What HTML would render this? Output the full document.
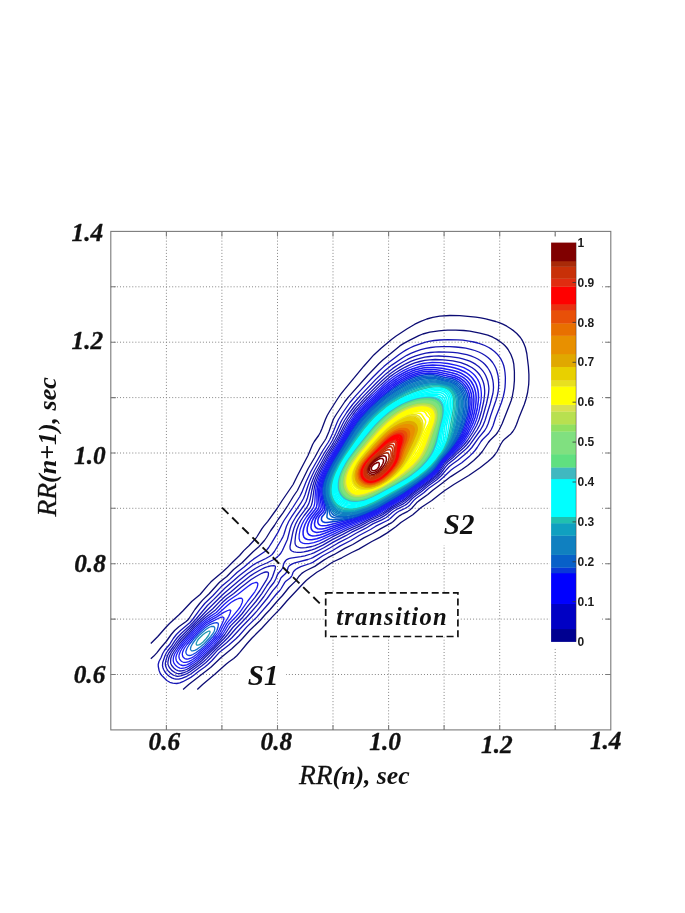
<!DOCTYPE html><html><head><meta charset="utf-8"><title>RR contour plot</title><style>html,body{margin:0;padding:0;background:#fff}body{width:685px;height:913px;position:relative;overflow:hidden}</style></head><body><svg width="685" height="913" viewBox="0 0 685 913" style="position:absolute;left:0;top:0"><rect width="685" height="913" fill="#fff"/><g stroke="#868686" stroke-width="1" stroke-dasharray="1 2.07" fill="none"><path d="M166.4 231.4V729.9"/><path d="M110.8 674.5H610.8"/><path d="M221.9 231.4V729.9"/><path d="M110.8 619.1H610.8"/><path d="M277.5 231.4V729.9"/><path d="M110.8 563.7H610.8"/><path d="M333.0 231.4V729.9"/><path d="M110.8 508.3H610.8"/><path d="M388.6 231.4V729.9"/><path d="M110.8 453.0H610.8"/><path d="M444.1 231.4V729.9"/><path d="M110.8 397.6H610.8"/><path d="M499.7 231.4V729.9"/><path d="M110.8 342.2H610.8"/><path d="M555.2 231.4V729.9"/><path d="M110.8 286.8H610.8"/></g><g fill="none" stroke-width="1.30" stroke-linejoin="round"><path d="M150.8 643.5 157.8 636.5 165.7 627.5 169.5 623.5 179.3 614.5 182.8 611.0 191.7 601.5 200.1 594.5 207.8 585.4 210.8 582.1 213.6 579.5 222.8 571.8 226.8 568.1 232.8 562.0 239.6 555.5 243.8 550.6 249.2 545.5 255.7 538.5 257.1 536.5 261.8 528.8 263.8 526.1 267.8 521.4 277.1 508.5 282.2 500.5 293.1 484.5 297.5 475.5 308.0 455.5 312.6 444.5 314.3 441.5 318.6 435.5 320.3 432.5 322.0 428.5 325.4 419.5 327.2 415.5 329.5 411.5 337.8 398.5 340.8 394.2 343.8 390.3 363.8 366.2 373.8 354.9 380.8 348.5 391.8 339.3 395.8 336.3 406.8 329.0 414.8 324.2 420.8 321.3 426.8 319.0 432.8 317.3 439.8 316.2 449.8 315.5 459.8 315.7 475.8 317.2 480.8 317.9 485.8 318.9 495.8 321.5 499.8 322.9 502.8 324.2 506.8 326.2 510.4 328.5 513.8 330.9 516.8 333.5 520.4 337.5 521.8 339.6 523.4 342.5 525.4 347.5 526.8 353.5 528.4 366.5 528.9 374.5 528.9 379.5 528.7 384.5 527.6 392.5 526.2 398.5 524.3 404.5 518.8 418.1 516.5 424.5 514.7 428.5 512.8 431.5 510.8 433.9 504.8 438.9 502.8 441.0 500.6 444.5 497.1 451.5 495.0 454.5 493.4 456.5 491.4 458.5 488.0 461.5 480.4 467.5 468.8 475.5 453.8 484.5 444.8 490.5 439.8 494.2 431.8 500.5 423.8 505.7 420.8 507.8 412.8 514.8 400.9 522.5 395.8 526.8 386.8 533.1 379.8 537.4 371.8 541.5 358.8 549.1 351.7 552.5 341.8 557.8 332.8 562.0 322.8 568.7 316.8 572.3 309.8 577.5 306.2 580.5 303.2 583.5 286.8 601.0 280.4 608.5 271.8 617.4 261.8 628.3 251.8 638.2 247.1 643.5 239.8 652.4 236.8 655.7 233.7 658.5 228.8 662.0 225.7 664.5 214.8 674.2 202.6 684.5 197.3 689.5" stroke="#0c0c74"/><path d="M150.8 658.7 153.8 656.1 156.8 652.9 161.0 647.5 166.2 641.5 171.2 634.5 174.6 630.5 179.1 626.5 186.1 621.5 187.8 620.0 189.0 618.5 194.9 609.5 199.6 603.5 202.8 599.9 209.4 593.5 218.8 583.0 220.4 581.5 226.8 576.5 233.6 569.5 242.3 562.5 252.8 552.0 258.8 546.8 264.4 540.5 266.5 537.5 270.8 530.5 274.4 525.5 278.1 519.5 282.8 513.1 287.8 505.5 293.3 496.5 297.4 490.5 308.2 468.5 314.7 457.5 320.1 447.5 324.8 440.5 326.0 438.5 329.0 431.5 332.9 420.5 333.8 418.5 336.2 414.5 344.9 401.5 348.8 396.6 367.8 375.2 378.8 363.8 382.8 360.1 399.8 345.9 403.8 343.4 409.8 340.1 418.8 335.6 422.8 334.0 429.8 332.2 438.8 330.8 443.8 330.3 447.8 330.2 455.8 330.2 463.8 330.5 469.8 331.1 479.8 333.1 487.8 335.2 492.8 337.2 496.8 339.4 499.8 341.4 502.6 343.5 504.8 345.5 506.6 347.5 508.1 349.5 510.8 354.3 512.8 359.5 513.8 364.2 514.4 371.5 514.4 380.5 513.7 388.5 512.3 396.5 511.2 400.5 509.7 404.5 502.2 423.5 499.3 429.5 497.5 432.5 495.8 434.8 489.9 440.5 488.3 442.5 482.3 451.5 478.9 455.5 473.7 460.5 467.6 465.5 461.9 469.5 450.8 476.6 440.8 484.3 432.8 490.2 427.8 494.5 418.8 500.9 416.8 502.6 411.8 508.2 409.8 510.0 407.8 511.3 402.8 513.8 399.8 515.6 396.8 518.0 393.2 521.5 391.8 522.6 380.8 528.6 372.6 533.5 363.8 537.9 352.8 544.5 344.8 548.4 333.8 554.7 327.8 557.7 323.8 560.1 314.8 566.4 306.3 570.5 303.8 572.0 301.8 573.4 298.8 576.5 295.8 580.9 288.9 587.5 282.5 595.5 277.8 600.5 270.1 609.5 265.3 614.5 260.1 620.5 249.8 630.2 242.5 638.5 238.8 642.3 231.8 648.8 220.8 657.8 210.6 667.5 188.7 684.5 183.1 689.5" stroke="#0c0c74"/><path d="M434.2 340.5 439.8 340.0 447.8 339.7 457.8 339.8 462.8 340.2 468.8 341.1 473.8 342.0 477.8 343.0 481.8 344.3 484.8 345.5 488.8 347.5 491.8 349.4 494.5 351.5 496.8 353.7 499.2 356.5 500.8 358.9 502.6 362.5 503.7 365.5 504.4 368.5 505.0 372.5 505.4 377.5 505.3 382.5 505.0 387.5 504.4 391.5 503.3 396.5 501.5 402.5 499.2 408.5 495.6 417.5 493.1 425.5 491.3 429.5 488.7 433.5 482.6 439.5 481.0 441.5 477.2 447.5 475.0 450.5 472.8 453.0 469.8 455.9 461.8 462.8 453.8 468.0 450.8 470.2 443.1 477.5 438.5 481.5 428.8 488.3 423.8 492.8 415.8 498.5 413.8 500.4 409.8 505.2 407.8 506.8 404.9 508.5 399.8 510.8 397.0 512.5 394.8 514.2 390.3 518.5 387.3 520.5 375.8 526.2 370.5 529.5 359.1 535.5 350.8 540.5 339.8 546.1 332.6 550.5 322.8 555.8 312.8 562.4 310.1 563.5 300.8 566.7 297.8 568.1 295.6 569.5 293.6 571.5 293.0 572.5 292.0 575.5 291.4 576.5 289.8 578.2 285.8 581.3 284.8 582.4 281.2 588.5 279.8 590.5 276.8 593.5 269.8 602.2 256.8 617.1 246.8 626.9 239.2 635.5 236.2 638.5 228.8 645.1 219.8 651.9 211.8 660.8 207.8 664.5 204.8 667.0 198.8 671.2 193.8 675.3 190.8 677.4 182.8 681.7 179.8 682.9 176.8 683.5 172.8 683.1 169.8 682.3 166.8 680.5 161.8 675.5 160.3 673.5 159.1 670.5 158.3 666.5 158.2 664.5 159.0 661.5 161.1 657.5 162.7 653.5 164.5 650.5 166.0 648.5 169.8 644.2 173.3 638.5 176.4 634.5 180.5 630.5 190.0 622.5 192.6 619.5 199.8 609.7 204.7 603.5 212.8 595.8 220.8 587.1 223.7 584.5 229.8 579.4 237.0 572.5 243.8 567.2 249.8 562.0 253.8 558.9 264.9 551.5 266.8 549.9 268.7 547.5 271.8 542.7 277.8 532.6 281.8 524.5 284.0 520.5 292.8 507.5 299.8 496.5 301.8 492.4 306.2 481.5 310.8 471.7 322.9 450.5 328.1 442.5 329.8 439.5 332.6 433.5 337.1 422.5 338.5 419.5 342.2 413.5 349.9 402.5 355.8 395.6 366.8 383.6 372.8 377.3 378.8 371.3 383.8 366.6 387.4 363.5 398.8 354.8 402.8 352.0 405.8 350.1 409.8 348.0 413.8 346.2 418.8 344.4 424.8 342.4 428.8 341.4 434.2 340.5Z" stroke="#1616b4"/><path d="M430.8 347.5 435.8 346.9 441.8 346.7 449.8 346.7 455.8 347.0 460.8 347.5 465.8 348.2 470.8 349.3 474.8 350.5 478.8 352.0 481.9 353.5 485.2 355.5 487.9 357.5 490.1 359.5 492.6 362.5 494.5 365.5 496.0 368.5 497.0 371.5 498.0 375.5 498.5 379.5 498.7 384.5 498.5 388.5 498.0 392.5 497.1 396.5 495.9 400.5 490.7 415.5 488.2 423.5 486.5 427.5 484.7 430.5 478.8 437.6 471.8 447.5 468.8 450.8 464.8 454.4 457.8 460.2 451.8 464.5 449.3 466.5 446.8 469.2 441.5 475.5 436.8 479.8 427.8 486.3 421.8 491.3 413.8 497.2 412.3 498.5 408.8 502.3 406.8 504.1 404.6 505.5 397.8 508.8 393.8 511.2 392.1 512.5 388.8 515.6 386.2 517.5 381.8 519.9 372.8 523.9 365.8 528.2 355.6 533.5 348.8 537.5 337.8 543.2 329.8 548.0 312.8 557.6 310.8 558.5 307.8 559.5 294.8 562.9 291.8 564.1 289.8 565.4 288.7 566.5 288.1 567.5 287.0 571.5 286.4 572.5 284.8 574.3 281.8 577.0 280.8 578.2 278.4 583.5 277.2 585.5 272.8 590.7 267.1 598.5 256.8 611.1 251.9 616.5 242.2 626.5 232.1 637.5 226.8 642.5 217.8 649.9 210.8 657.7 205.9 662.5 202.2 665.5 190.8 674.0 186.8 676.3 181.8 678.3 178.8 679.1 175.8 679.2 173.8 678.7 171.8 677.9 168.8 676.0 167.2 674.5 165.8 673.0 164.7 671.5 163.6 669.5 162.9 667.5 162.5 665.5 162.7 662.5 165.1 655.5 166.6 652.5 167.9 650.5 171.8 645.7 174.8 640.9 177.4 637.5 181.2 633.5 188.8 626.6 192.8 622.5 196.5 618.5 207.4 605.5 213.8 599.4 221.8 591.2 224.8 588.3 239.8 575.3 250.8 566.8 253.8 564.6 256.8 562.8 265.8 558.5 269.8 556.3 272.1 554.5 274.4 551.5 280.9 540.5 282.8 537.1 283.8 534.7 286.4 526.5 288.7 521.5 291.8 516.4 300.8 503.2 303.5 498.5 305.1 494.5 307.7 486.5 309.5 481.5 312.1 475.5 314.5 470.5 324.8 452.3 329.9 444.5 332.3 440.5 335.7 433.5 340.6 422.5 342.2 419.5 346.7 412.5 352.6 404.5 360.8 395.1 375.8 379.4 384.8 370.8 391.8 365.1 402.8 357.7 406.8 355.3 410.8 353.3 415.8 351.3 420.8 349.7 425.8 348.4 430.8 347.5Z" stroke="#1616b4"/><path d="M430.2 352.5 434.8 352.1 438.8 351.9 447.8 352.1 452.8 352.4 457.8 352.9 462.8 353.8 466.8 354.7 470.8 355.9 474.8 357.5 477.8 359.0 480.2 360.5 482.9 362.5 485.0 364.5 487.5 367.5 489.4 370.5 490.8 373.4 491.9 376.5 492.8 380.2 493.3 383.5 493.5 387.5 493.3 390.5 492.9 393.5 490.3 403.5 485.0 420.5 482.8 425.9 480.1 430.5 469.8 444.8 467.5 447.5 464.8 450.1 459.5 454.5 454.8 458.8 447.8 464.3 445.8 466.6 440.7 473.5 437.9 476.5 435.7 478.5 426.8 485.0 420.8 489.9 413.2 495.5 405.3 502.5 402.8 504.1 396.0 507.5 392.8 509.3 391.1 510.5 386.8 514.1 383.8 516.2 379.8 518.3 371.8 521.8 362.8 526.9 351.8 532.2 345.8 535.7 333.8 541.9 324.3 547.5 313.8 552.8 310.8 554.0 304.8 555.8 300.8 556.7 290.8 558.1 288.8 558.6 286.8 559.6 285.8 560.5 284.3 562.5 283.5 564.5 282.8 567.5 282.3 568.5 280.9 570.5 278.8 572.8 277.5 574.5 275.8 579.0 273.9 582.5 269.9 587.5 263.9 596.5 257.8 604.4 247.3 616.5 235.9 628.5 228.1 637.5 224.1 641.5 215.5 649.5 206.8 658.6 203.7 661.5 199.8 664.7 189.8 672.0 185.8 674.2 180.8 675.9 177.8 676.3 175.8 676.0 174.3 675.5 172.8 674.8 170.8 673.4 168.8 671.6 167.8 670.3 166.6 668.5 165.8 666.6 165.5 665.5 165.3 663.5 165.9 660.5 167.5 655.5 168.8 653.0 173.5 646.5 176.8 641.6 179.8 638.0 197.3 620.5 206.8 610.5 221.8 595.5 224.8 592.7 238.8 580.8 247.8 573.5 255.3 568.5 259.8 566.0 266.8 563.0 274.8 559.0 278.8 555.5 280.8 553.2 282.4 550.5 287.4 539.5 290.2 528.5 291.2 525.5 292.6 522.5 296.1 516.5 303.9 505.5 306.1 501.5 307.5 497.5 309.9 488.5 311.4 483.5 313.7 477.5 316.0 472.5 326.4 453.5 331.8 445.3 334.6 440.5 337.7 434.5 342.4 424.5 344.5 420.5 348.8 413.9 354.3 406.5 362.8 396.9 376.8 382.5 385.8 373.9 392.8 368.4 397.8 365.0 402.8 362.0 407.8 359.2 411.8 357.4 415.8 355.9 420.8 354.3 425.8 353.2 430.2 352.5Z" stroke="#1616b4"/><path d="M429.6 356.5 433.8 356.2 438.8 356.0 449.8 356.6 458.8 357.9 462.8 358.9 466.8 360.1 469.8 361.2 472.8 362.6 475.8 364.4 478.6 366.5 480.8 368.6 482.8 370.9 484.6 373.5 485.8 375.8 486.9 378.5 487.9 381.5 488.6 385.5 488.9 388.5 488.7 391.5 488.4 394.5 486.5 403.5 482.6 417.5 480.0 424.5 477.3 429.5 469.9 440.5 466.8 444.5 463.8 447.7 457.8 452.9 453.1 457.5 447.8 461.7 445.9 463.5 439.6 472.5 436.9 475.5 434.7 477.5 412.2 494.5 404.8 500.8 401.8 502.7 391.8 508.1 382.8 514.6 378.8 516.7 370.3 520.5 360.8 525.6 350.8 530.1 342.8 534.4 332.8 539.4 322.8 545.1 314.8 548.8 311.8 549.9 307.8 551.0 303.8 551.9 300.8 552.3 297.8 552.4 295.8 552.2 293.8 551.8 291.8 551.0 291.2 550.5 290.4 549.5 290.1 548.5 290.0 546.5 292.8 532.5 293.9 528.5 295.8 523.6 298.0 519.5 300.8 515.3 306.7 507.5 308.8 503.6 310.1 499.5 311.8 490.5 313.0 485.5 314.2 481.5 316.1 476.5 319.5 469.5 326.8 456.2 335.4 442.5 338.7 436.5 345.2 423.5 347.8 419.0 350.8 414.6 354.6 409.5 357.8 405.7 366.8 395.9 381.8 381.0 386.8 376.4 390.8 373.2 395.8 369.7 400.8 366.6 405.8 363.8 410.8 361.4 414.8 359.9 419.8 358.3 424.8 357.2 429.6 356.5Z" stroke="#1616b4"/><path d="M268.2 566.5 270.8 565.9 273.8 565.6 274.8 565.9 275.4 566.5 275.4 567.5 275.0 569.5 272.6 576.5 270.8 580.1 266.9 585.5 261.8 593.6 255.9 601.5 248.8 609.8 242.8 617.2 232.8 627.5 227.5 634.5 224.1 638.5 202.0 660.5 198.5 663.5 188.8 670.4 186.8 671.5 183.8 672.7 180.8 673.5 178.8 673.7 176.8 673.4 174.8 672.5 171.8 670.4 169.4 667.5 168.8 666.4 168.1 664.5 167.9 663.5 168.0 661.5 168.9 657.5 169.8 655.2 171.3 652.5 177.8 643.1 180.8 639.5 188.8 631.4 193.8 626.0 205.8 614.7 212.8 608.7 220.8 600.4 225.0 596.5 230.8 592.0 239.8 584.2 250.8 575.6 254.0 573.5 261.0 569.5 264.8 567.7 268.2 566.5Z" stroke="#1616b4"/><path d="M435.2 359.5 443.8 359.8 452.8 360.9 460.8 362.7 466.8 364.9 471.8 367.5 474.6 369.5 476.8 371.5 478.6 373.5 480.1 375.5 481.3 377.5 482.7 380.5 483.7 383.5 484.3 386.5 484.7 390.5 484.7 393.5 483.9 400.5 481.7 410.5 479.1 419.5 476.6 425.5 472.7 432.5 467.4 440.5 464.2 444.5 461.3 447.5 456.8 451.6 451.9 456.5 445.8 461.5 444.8 462.5 439.6 470.5 437.2 473.5 434.8 475.9 430.8 479.2 411.6 493.5 404.8 499.1 401.8 501.1 391.8 506.6 383.8 512.2 379.8 514.5 369.8 519.1 359.8 524.1 348.8 528.8 332.8 536.7 323.8 541.6 318.8 544.0 314.8 545.6 311.8 546.5 305.8 547.7 302.8 547.9 300.8 547.8 298.8 547.4 296.9 546.5 295.9 545.5 295.4 544.5 295.1 543.5 295.0 541.5 295.6 535.5 296.9 529.5 298.8 524.5 300.8 520.5 304.2 515.5 309.7 508.5 311.3 505.5 312.4 501.5 313.7 491.5 314.6 486.5 316.0 481.5 317.9 476.5 321.2 469.5 328.3 456.5 337.1 442.5 347.7 422.5 353.1 414.5 356.8 409.7 360.8 405.1 365.8 399.7 372.8 392.6 380.8 384.9 386.8 379.4 390.8 376.1 394.8 373.2 399.8 370.1 404.8 367.3 409.8 364.9 414.8 362.9 419.8 361.5 424.8 360.4 429.8 359.8 435.2 359.5Z" stroke="#1616b4"/><path d="M263.7 572.5 265.8 572.0 266.8 571.9 267.8 572.1 268.2 572.5 268.5 573.5 268.3 575.5 267.7 577.5 266.8 579.3 259.9 590.5 254.8 597.7 246.8 607.4 242.3 613.5 237.9 618.5 230.8 625.6 229.4 627.5 224.8 634.5 222.4 637.5 219.7 640.5 214.0 646.5 200.6 659.5 196.8 662.7 188.8 668.3 186.4 669.5 183.8 670.5 181.8 670.9 179.8 671.0 177.8 670.6 176.8 670.2 175.6 669.5 173.8 668.0 171.7 665.5 170.8 663.5 170.6 662.5 170.6 660.5 170.8 658.5 171.4 656.5 172.3 654.5 174.1 651.5 179.8 643.2 194.4 627.5 205.8 617.3 214.8 610.6 221.8 603.1 226.8 598.5 233.8 593.5 240.9 587.5 250.8 579.8 256.0 576.5 261.8 573.3 263.7 572.5Z" stroke="#1616b4"/><path d="M432.2 362.5 439.8 362.6 447.8 363.5 456.8 365.4 460.8 366.6 463.8 367.7 468.8 370.3 472.9 373.5 474.9 375.5 476.4 377.5 477.8 379.6 479.2 382.5 480.2 385.5 480.8 388.2 481.2 391.5 481.4 394.5 481.2 398.5 480.7 402.5 478.9 411.5 476.6 419.5 474.2 425.5 469.8 433.5 465.2 440.5 461.1 445.5 452.2 454.5 444.3 461.5 438.4 470.5 435.8 473.5 433.8 475.5 430.1 478.5 411.3 492.5 404.8 497.6 401.8 499.7 391.4 505.5 382.8 511.3 377.8 514.1 369.8 517.7 359.8 522.5 346.8 527.8 319.8 540.6 313.8 542.7 308.8 543.7 304.8 543.7 302.8 543.2 301.3 542.5 300.3 541.5 299.8 540.8 299.1 538.5 299.2 534.5 300.1 529.5 301.8 524.8 304.0 520.5 306.7 516.5 312.2 509.5 313.9 506.5 314.5 504.5 314.8 502.5 315.3 493.5 316.0 487.5 317.3 482.5 319.4 476.5 322.7 469.5 329.2 457.5 338.5 442.5 348.8 423.7 353.6 416.5 356.8 412.3 360.8 407.5 370.8 397.0 384.8 383.8 389.8 379.5 393.8 376.5 398.8 373.2 403.8 370.4 408.8 368.0 413.8 366.0 417.8 364.7 422.8 363.5 427.8 362.8 432.2 362.5Z" stroke="#1c1cf2"/><path d="M255.5 582.5 256.9 582.5 257.8 583.5 257.8 584.5 257.4 586.5 256.7 588.5 254.8 591.8 247.8 601.0 239.8 612.4 236.2 616.5 228.5 624.5 224.5 631.5 222.5 634.5 219.3 638.5 213.8 644.6 202.8 655.3 198.2 659.5 194.3 662.5 188.8 666.1 186.8 667.2 184.8 667.9 181.8 668.3 179.8 668.1 178.8 667.7 176.9 666.5 175.8 665.5 174.8 664.4 173.8 662.8 173.2 660.5 173.4 657.5 174.0 655.5 174.9 653.5 178.8 647.3 181.6 643.5 194.8 629.2 197.6 626.5 205.8 619.5 209.8 616.6 216.3 612.5 223.8 604.7 228.7 600.5 237.6 594.5 247.8 586.5 250.8 584.4 252.8 583.3 255.5 582.5Z" stroke="#1c1cf2"/><path d="M425.6 365.5 432.8 365.1 436.8 365.2 441.8 365.6 450.8 367.1 454.8 368.1 458.8 369.3 464.0 371.5 466.8 373.2 468.8 374.6 470.9 376.5 472.7 378.5 475.4 382.5 476.3 384.5 477.3 387.5 478.0 390.5 478.4 393.5 478.5 396.5 478.4 400.5 477.3 408.5 475.1 417.5 472.5 424.5 468.4 432.5 464.1 439.5 460.1 444.5 451.7 453.5 448.8 456.3 443.8 460.7 442.5 462.5 438.0 469.5 435.8 472.2 433.6 474.5 428.7 478.5 403.8 497.1 400.8 499.1 390.8 504.7 381.8 510.6 376.8 513.3 359.8 521.1 344.8 526.9 322.8 536.7 316.8 538.8 311.8 539.7 309.8 539.8 307.8 539.6 306.8 539.3 305.2 538.5 303.8 536.9 303.1 534.5 303.1 531.5 303.7 528.5 305.0 524.5 307.6 519.5 310.3 515.5 315.1 509.5 316.3 507.5 316.6 506.5 317.1 503.5 316.9 494.5 317.2 489.5 318.4 483.5 320.4 477.5 323.6 470.5 329.8 458.8 339.3 443.5 348.1 427.5 352.8 420.0 356.1 415.5 359.8 410.9 367.8 402.2 380.8 389.7 386.8 384.4 391.8 380.3 395.8 377.4 399.8 375.0 404.3 372.5 408.8 370.3 412.8 368.7 416.8 367.4 420.8 366.3 425.6 365.5Z" stroke="#1c1cf2" stroke-width="1.55"/><path d="M238.5 598.5 240.8 598.2 241.9 598.5 242.5 599.5 242.6 600.5 242.2 602.5 240.8 605.7 239.8 607.5 237.8 610.2 226.8 623.4 223.0 630.5 221.1 633.5 218.1 637.5 213.8 642.4 206.8 649.4 198.2 657.5 194.3 660.5 189.8 663.4 186.8 664.8 183.8 665.5 182.6 665.5 180.8 665.0 179.8 664.5 178.5 663.5 176.8 661.5 176.3 660.5 175.9 658.5 175.9 657.5 176.3 655.5 177.6 652.5 179.9 648.5 182.8 644.5 193.8 632.4 198.7 627.5 205.8 621.5 209.8 618.7 215.8 615.3 217.8 614.0 226.8 605.9 230.9 602.5 234.8 600.1 238.5 598.5Z" stroke="#1c1cf2"/><path d="M427.5 367.5 433.8 367.4 441.8 368.2 451.8 370.2 455.8 371.3 458.8 372.3 461.5 373.5 463.8 374.8 467.8 377.7 469.5 379.5 471.2 381.5 473.5 385.5 474.3 387.5 475.2 390.5 475.8 393.5 476.1 396.5 476.1 399.5 475.9 403.5 474.8 410.5 473.1 417.5 470.6 424.5 466.7 432.5 462.4 439.5 458.5 444.5 451.4 452.5 448.5 455.5 443.0 460.5 437.1 469.5 434.8 472.2 432.8 474.1 428.8 477.5 418.8 485.0 403.8 496.0 400.0 498.5 389.8 504.2 381.8 509.4 378.1 511.5 358.8 520.2 344.2 525.5 324.8 533.3 319.8 535.0 315.8 535.8 312.8 535.9 310.6 535.5 308.8 534.5 308.0 533.5 307.5 532.5 307.1 530.5 307.3 527.5 308.4 523.5 309.8 520.5 310.9 518.5 313.0 515.5 317.8 509.5 318.4 508.5 319.1 506.5 319.1 503.5 318.4 495.5 318.5 490.5 319.4 484.5 320.2 481.5 321.6 477.5 324.8 470.5 330.8 459.2 340.5 443.5 349.8 427.0 354.0 420.5 357.0 416.5 360.8 411.8 364.8 407.3 369.8 402.2 376.8 395.5 383.8 389.1 388.8 384.8 393.8 381.0 397.8 378.3 401.8 375.9 406.5 373.5 410.8 371.6 414.8 370.1 418.8 368.9 422.8 368.1 427.5 367.5Z" stroke="#1c1cf2" stroke-width="1.55"/><path d="M227.8 610.5 229.8 609.9 230.8 610.5 230.0 613.5 228.7 616.5 223.9 624.5 219.8 632.5 217.0 636.5 212.8 641.3 206.8 647.5 200.8 653.0 196.8 656.6 192.7 659.5 188.8 661.6 185.8 662.4 183.8 662.4 182.8 662.0 181.8 661.5 180.8 660.7 179.8 659.5 179.3 658.5 178.9 656.5 179.2 654.5 180.3 651.5 182.6 647.5 184.8 644.6 193.8 634.4 200.8 627.5 206.8 622.6 210.8 620.1 216.8 616.9 223.8 612.4 227.8 610.5Z" stroke="#1c1cf2"/><path d="M427.4 369.5 433.8 369.5 439.8 370.2 451.8 372.7 457.8 374.6 461.8 376.6 463.8 377.9 465.8 379.5 467.7 381.5 469.3 383.5 471.5 387.5 472.3 389.5 473.2 392.5 473.7 395.5 473.9 398.5 473.9 401.5 473.6 405.5 472.5 412.5 470.6 419.5 468.0 426.5 464.0 434.5 460.3 440.5 457.2 444.5 450.3 452.5 442.8 459.8 436.8 468.7 434.8 471.1 432.4 473.5 428.8 476.6 418.8 484.1 403.8 494.9 399.8 497.6 389.8 503.3 381.8 508.3 377.8 510.6 371.8 513.4 358.8 519.1 340.8 525.1 326.8 530.2 322.8 531.5 319.8 532.1 316.8 532.4 314.8 532.1 312.8 531.1 311.5 529.5 311.0 527.5 311.2 524.5 312.0 521.5 312.9 519.5 314.7 516.5 316.1 514.5 319.8 510.2 320.8 508.5 321.1 507.5 321.1 504.5 319.7 495.5 319.7 490.5 320.0 487.5 320.6 484.5 321.4 481.5 322.8 477.5 325.9 470.5 331.8 459.5 341.0 444.5 350.8 427.5 354.8 421.4 357.8 417.4 361.8 412.5 365.8 408.1 370.8 403.0 376.8 397.3 383.8 391.0 388.8 386.8 393.8 383.0 397.8 380.3 401.8 377.9 406.4 375.5 410.8 373.5 414.8 372.1 418.8 370.9 422.8 370.0 427.4 369.5Z" stroke="#1c1cf2" stroke-width="1.55"/><path d="M220.3 617.5 221.8 617.1 222.8 617.0 223.7 617.5 223.9 618.5 223.5 620.5 219.4 629.5 217.9 632.5 215.8 635.5 212.8 639.1 204.7 647.5 197.8 653.6 193.8 656.6 190.8 658.2 187.8 659.1 185.8 659.0 184.8 658.6 183.8 657.8 182.8 656.5 182.3 654.5 182.5 652.5 183.7 649.5 184.9 647.5 187.0 644.5 193.8 636.5 196.7 633.5 201.9 628.5 206.8 624.5 210.8 622.1 220.3 617.5Z" stroke="#1c1cf2"/><path d="M425.2 371.5 430.8 371.2 436.8 371.8 451.8 375.0 455.8 376.2 459.8 378.0 461.8 379.3 463.8 380.9 465.5 382.5 467.1 384.5 469.5 388.5 470.3 390.5 471.2 393.5 471.7 396.5 472.0 399.5 471.8 405.5 470.7 412.5 468.7 420.5 466.0 427.5 462.6 434.5 458.9 440.5 456.0 444.5 450.2 451.5 442.3 459.5 436.8 467.6 434.8 470.1 432.5 472.5 427.9 476.5 419.8 482.6 403.8 494.0 399.8 496.7 389.8 502.4 377.8 509.6 371.8 512.5 358.8 518.0 352.8 520.0 324.8 528.4 321.8 528.9 319.8 529.0 317.8 528.7 316.8 528.2 315.8 527.5 315.1 526.5 314.7 525.5 314.5 523.5 315.1 520.5 315.8 518.5 317.0 516.5 318.4 514.5 322.0 510.5 323.0 508.5 323.1 507.5 322.9 505.5 321.1 496.5 320.8 491.5 321.0 488.5 321.5 485.5 322.2 482.5 323.4 478.5 326.9 470.5 332.8 459.5 342.1 444.5 350.8 429.5 354.8 423.3 357.8 419.2 361.8 414.3 369.8 405.7 375.8 399.9 381.8 394.5 387.8 389.4 392.8 385.5 396.8 382.8 400.8 380.3 405.8 377.6 409.8 375.8 413.8 374.2 417.8 372.9 421.8 372.0 425.2 371.5Z" stroke="#1c1cf2" stroke-width="1.55"/><path d="M212.5 623.5 214.8 622.9 216.8 622.7 217.8 623.0 218.2 623.5 218.4 624.5 217.9 627.5 216.9 630.5 215.2 633.5 213.0 636.5 204.8 645.4 200.8 648.9 195.8 652.8 192.8 654.5 190.8 655.3 188.8 655.5 187.8 655.2 186.8 654.5 186.2 653.5 185.9 652.5 185.9 651.5 186.9 648.5 189.3 644.5 194.0 638.5 197.7 634.5 204.8 628.0 208.8 625.2 212.5 623.5Z" stroke="#1040e0"/><path d="M422.8 373.5 428.8 372.9 434.8 373.2 438.8 374.0 444.8 375.6 451.8 376.9 454.8 377.8 458.8 379.7 461.8 381.8 464.8 385.0 467.1 388.5 468.1 390.5 469.1 393.5 470.0 398.5 470.1 404.5 469.3 411.5 467.7 418.5 465.0 426.5 461.9 433.5 459.7 437.5 457.8 440.5 454.1 445.5 449.3 451.5 441.7 459.5 435.8 468.0 431.8 472.4 427.8 475.8 418.8 482.5 403.8 493.1 398.8 496.4 376.8 509.2 369.8 512.5 358.8 517.0 353.8 518.7 347.8 520.3 326.8 525.4 322.8 525.8 320.8 525.5 319.8 525.1 318.8 524.3 318.3 523.5 317.9 522.5 317.8 521.5 318.0 519.5 318.7 517.5 319.8 515.7 322.8 512.5 323.8 511.2 324.6 509.5 324.7 508.5 324.4 505.5 322.4 497.5 321.9 492.5 321.9 489.5 322.3 486.5 322.9 483.5 324.1 479.5 325.6 475.5 327.4 471.5 332.8 461.3 343.0 444.5 350.8 431.3 354.8 425.1 358.1 420.5 361.8 415.9 369.6 407.5 379.8 397.9 390.8 388.8 394.8 385.8 398.8 383.2 402.8 380.9 406.8 378.8 410.8 377.0 414.8 375.5 418.8 374.3 422.8 373.5Z" stroke="#1c1cf2" stroke-width="1.55"/><path d="M211.2 626.5 212.8 626.3 213.8 626.5 214.7 627.5 214.8 628.5 214.5 630.5 213.8 632.1 212.8 633.7 210.7 636.5 204.4 643.5 199.8 647.3 196.8 649.4 194.8 650.4 192.8 650.9 191.8 650.8 191.2 650.5 190.5 649.5 190.5 648.5 191.0 646.5 192.6 643.5 196.2 638.5 199.0 635.5 205.8 629.5 208.8 627.5 211.2 626.5Z" stroke="#1878c8"/><path d="M427.6 374.5 431.8 374.5 436.8 375.2 444.8 377.4 451.8 378.6 455.8 380.1 458.8 381.8 462.0 384.5 464.8 388.2 466.8 392.3 467.5 394.5 468.2 397.5 468.6 402.5 468.5 405.5 468.1 409.5 466.8 416.5 464.4 424.5 461.6 431.5 458.5 437.5 454.6 443.5 448.5 451.5 441.1 459.5 434.8 468.3 430.8 472.5 426.0 476.5 416.8 483.3 402.8 493.0 397.8 496.2 388.8 501.3 379.8 506.7 375.8 508.9 365.8 513.4 357.8 516.4 352.8 518.0 347.8 519.2 336.8 521.3 326.8 522.5 324.8 522.4 322.8 521.8 321.7 520.5 321.4 519.5 321.6 517.5 322.2 516.5 323.9 514.5 325.3 512.5 325.8 511.2 326.2 509.5 326.0 506.5 323.5 497.5 322.9 492.5 322.9 489.5 323.2 486.5 323.8 483.5 325.0 479.5 326.5 475.5 328.3 471.5 333.8 461.2 351.8 431.4 356.4 424.5 359.8 420.0 363.8 415.2 367.8 410.8 372.8 405.8 377.8 401.2 383.8 396.0 389.8 391.2 394.8 387.5 398.8 384.8 402.8 382.5 406.8 380.4 411.8 378.2 415.8 376.8 419.8 375.7 423.8 374.9 427.6 374.5Z" stroke="#0838d8" stroke-width="1.55"/><path d="M207.8 631.5 208.8 631.2 209.8 631.2 210.0 631.5 210.0 632.5 208.5 635.5 206.3 638.5 202.8 642.2 200.8 643.8 198.8 644.8 197.8 645.1 196.8 645.0 196.3 644.5 196.2 643.5 196.5 642.5 197.5 640.5 198.8 638.7 202.8 634.8 205.8 632.6 207.8 631.5Z" stroke="#2098b0"/><path d="M422.8 376.5 428.8 375.9 433.8 376.1 437.8 376.9 443.8 378.7 449.8 379.7 452.9 380.5 454.8 381.3 456.8 382.3 459.6 384.5 462.3 387.5 464.6 391.5 465.5 393.5 466.3 396.5 467.0 401.5 466.8 407.5 465.8 414.5 463.8 422.5 461.3 429.5 458.0 436.5 454.4 442.5 448.5 450.5 441.3 458.5 434.8 467.5 430.8 471.7 426.4 475.5 416.8 482.6 403.8 491.5 397.8 495.4 379.8 505.9 375.8 508.1 365.9 512.5 357.8 515.6 353.8 516.8 348.8 517.9 339.8 519.4 335.8 519.7 332.8 519.7 329.8 519.2 328.0 518.5 327.1 517.5 326.9 516.5 327.6 510.5 327.4 507.5 324.7 498.5 323.9 493.5 323.8 490.5 324.0 487.5 324.5 484.5 325.3 481.5 326.6 477.5 328.3 473.5 330.7 468.5 333.8 462.7 350.8 434.7 354.8 428.4 357.8 424.1 361.8 419.0 365.7 414.5 369.5 410.5 378.8 401.7 384.8 396.6 389.8 392.7 394.8 389.0 398.8 386.4 406.8 382.0 410.8 380.2 414.8 378.6 418.8 377.4 422.8 376.5Z" stroke="#0860c8" stroke-width="1.55"/><path d="M425.3 377.5 429.8 377.2 434.8 377.6 437.8 378.2 443.8 380.0 449.8 381.0 452.8 381.9 454.8 382.8 456.8 384.0 459.5 386.5 461.8 389.6 463.8 393.5 464.5 395.5 465.1 398.5 465.5 403.5 465.0 410.5 463.8 417.5 461.5 425.5 458.9 432.5 455.9 438.5 452.1 444.5 447.0 451.5 440.7 458.5 434.8 466.7 432.8 469.0 430.3 471.5 425.5 475.5 416.0 482.5 402.8 491.5 397.8 494.7 379.8 505.1 375.4 507.5 366.8 511.4 358.8 514.4 350.8 516.6 345.8 517.5 341.8 517.9 338.8 518.1 335.8 517.9 333.7 517.5 331.5 516.5 330.5 515.5 329.8 514.0 328.6 507.5 325.9 499.5 325.0 495.5 324.7 492.5 324.7 489.5 325.0 486.5 325.8 482.5 327.1 478.5 328.7 474.5 330.8 470.0 333.8 464.2 337.8 457.3 354.8 429.9 357.9 425.5 361.8 420.4 365.8 415.8 369.8 411.5 374.8 406.7 379.8 402.2 385.8 397.2 390.8 393.3 395.8 389.8 399.8 387.3 404.7 384.5 408.8 382.5 413.6 380.5 417.8 379.1 421.8 378.1 425.3 377.5Z" stroke="#0860c8" stroke-width="1.55"/><path d="M428.4 378.5 432.8 378.5 436.8 379.1 443.8 381.1 449.8 382.2 453.5 383.5 456.5 385.5 459.4 388.5 461.3 391.5 463.0 395.5 463.5 397.5 463.9 400.5 464.0 406.5 463.2 413.5 461.8 420.5 459.7 427.5 457.0 434.5 453.8 440.5 450.0 446.5 446.3 451.5 440.2 458.5 433.8 467.1 429.5 471.5 424.7 475.5 415.1 482.5 402.8 490.8 396.9 494.5 375.8 506.5 367.1 510.5 359.1 513.5 351.8 515.5 347.8 516.2 343.8 516.6 340.8 516.7 337.8 516.5 335.8 516.1 333.8 515.2 332.8 514.4 332.0 513.5 331.0 511.5 327.2 500.5 326.1 496.5 325.6 493.5 325.5 489.5 325.8 486.5 326.6 482.5 327.9 478.5 329.5 474.5 331.8 469.5 334.8 463.9 339.8 455.4 351.8 436.0 355.8 429.9 359.8 424.4 363.7 419.5 367.8 414.9 371.8 410.8 376.8 406.1 381.8 401.8 387.8 396.9 392.8 393.3 396.8 390.5 401.8 387.5 406.8 384.9 411.8 382.6 416.8 380.8 420.8 379.6 424.8 378.9 428.4 378.5Z" stroke="#0860c8" stroke-width="1.55"/><path d="M422.7 380.5 428.8 379.7 433.8 379.8 437.8 380.4 442.8 381.8 447.8 382.7 450.6 383.5 453.8 385.0 456.8 387.4 459.2 390.5 460.8 393.5 461.6 395.5 462.3 398.5 462.7 401.5 462.7 404.5 462.2 411.5 460.8 419.5 458.9 426.5 456.4 433.5 453.5 439.5 449.3 446.5 445.6 451.5 439.8 458.3 433.8 466.4 431.8 468.6 428.8 471.5 421.3 477.5 414.8 482.1 402.8 490.1 395.8 494.4 379.8 503.7 374.8 506.3 367.8 509.5 359.8 512.5 355.8 513.7 351.8 514.6 344.8 515.5 341.8 515.5 338.8 515.2 336.8 514.7 334.8 513.7 333.8 512.8 332.8 511.6 331.8 509.7 328.4 501.5 327.1 497.5 326.5 494.5 326.3 490.5 326.5 487.5 327.2 483.5 328.3 479.5 329.8 475.5 331.8 471.1 334.8 465.3 340.8 455.1 354.8 432.8 357.8 428.5 361.5 423.5 364.9 419.5 368.8 415.2 376.8 407.3 381.8 403.0 386.8 399.0 395.8 392.5 400.8 389.4 404.8 387.2 409.8 384.8 413.8 383.2 418.7 381.5 422.7 380.5Z" stroke="#1080c0" stroke-width="1.55"/><path d="M423.8 381.5 429.8 380.8 434.8 380.9 438.8 381.6 449.8 384.3 452.8 385.7 454.1 386.5 455.8 388.0 457.8 390.5 459.0 392.5 459.8 394.5 460.5 396.5 461.1 399.5 461.4 402.5 461.4 405.5 460.8 412.5 459.1 421.5 457.2 428.5 455.0 434.5 452.1 440.5 447.9 447.5 444.2 452.5 439.8 457.6 433.8 465.7 431.8 467.9 428.1 471.5 420.8 477.2 414.8 481.5 402.8 489.4 396.2 493.5 379.8 503.0 374.8 505.6 367.8 508.8 359.8 511.8 355.8 512.9 351.8 513.8 347.8 514.3 344.8 514.5 341.8 514.4 339.8 514.1 337.8 513.5 335.8 512.5 333.8 510.5 332.5 508.5 329.7 502.5 327.9 497.5 327.3 494.5 327.0 490.5 327.3 486.5 328.2 482.5 329.4 478.5 331.0 474.5 332.9 470.5 335.8 464.8 341.8 454.7 355.8 432.7 359.8 427.1 362.8 423.3 366.8 418.6 370.6 414.5 378.8 406.8 387.8 399.4 392.8 395.8 397.8 392.5 402.8 389.6 406.8 387.5 411.2 385.5 415.8 383.7 419.8 382.4 423.8 381.5Z" stroke="#1080c0" stroke-width="1.55"/><path d="M424.7 382.5 430.8 381.8 435.8 382.0 446.8 384.3 449.8 385.2 452.8 386.9 455.6 389.5 457.6 392.5 458.9 395.5 459.5 397.5 460.0 400.5 460.1 406.5 459.2 414.5 457.5 423.5 455.5 430.5 453.2 436.5 450.3 442.5 446.6 448.5 442.8 453.5 439.4 457.5 436.8 461.2 432.8 466.2 429.8 469.2 425.8 472.8 419.7 477.5 407.8 485.6 396.8 492.5 379.8 502.3 373.6 505.5 366.9 508.5 360.8 510.7 354.8 512.4 348.8 513.3 343.8 513.4 339.8 512.8 336.8 511.5 334.8 509.7 332.8 506.9 330.1 501.5 328.7 497.5 327.9 493.5 327.8 490.5 328.1 486.5 328.9 482.5 330.1 478.5 331.7 474.5 333.8 470.0 336.8 464.3 342.8 454.3 352.8 438.5 356.8 432.6 360.8 427.1 363.8 423.3 367.1 419.5 371.8 414.5 379.8 407.1 388.8 399.9 397.8 393.8 402.8 390.9 407.4 388.5 411.9 386.5 416.8 384.6 420.8 383.4 424.7 382.5Z" stroke="#1080c0" stroke-width="1.55"/><path d="M425.5 383.5 430.8 382.9 435.8 383.0 438.8 383.4 444.2 384.5 448.8 385.8 451.8 387.4 454.2 389.5 456.4 392.5 457.3 394.5 458.0 396.5 458.4 398.5 458.8 401.5 458.8 407.5 457.8 415.5 455.9 425.5 453.9 432.5 451.9 437.5 449.0 443.5 445.3 449.5 432.8 465.5 430.8 467.6 425.4 472.5 418.9 477.5 413.2 481.5 407.0 485.5 395.8 492.4 379.8 501.6 373.8 504.7 367.7 507.5 360.8 510.0 354.8 511.6 348.8 512.5 343.8 512.4 341.8 512.1 339.8 511.6 337.8 510.6 336.8 509.9 334.8 508.0 332.8 505.0 330.5 500.5 329.2 496.5 328.7 493.5 328.5 489.5 329.0 485.5 329.8 481.8 331.2 477.5 332.9 473.5 337.8 463.8 346.8 449.1 357.8 432.4 361.8 427.1 365.8 422.2 372.8 414.6 379.8 408.2 384.8 404.0 389.8 400.3 398.8 394.4 403.8 391.6 408.0 389.5 412.5 387.5 416.8 385.9 421.2 384.5 425.5 383.5Z" stroke="#1080c0" stroke-width="1.55"/><path d="M426.2 384.5 431.8 383.8 436.8 384.0 443.8 385.2 448.3 386.5 450.3 387.5 451.8 388.5 453.8 390.5 455.6 393.5 456.8 396.5 457.2 398.5 457.6 401.5 457.5 407.5 456.4 416.5 454.5 426.5 452.9 432.5 450.7 438.5 447.8 444.3 444.7 449.5 441.8 453.5 438.4 457.5 435.8 461.1 431.8 465.9 427.0 470.5 424.8 472.4 418.8 477.0 407.7 484.5 396.2 491.5 378.8 501.5 372.9 504.5 366.8 507.2 360.8 509.3 354.8 510.9 349.8 511.5 344.8 511.5 340.8 510.7 337.8 509.2 335.8 507.5 333.5 504.5 331.4 500.5 330.0 496.5 329.4 493.5 329.2 489.5 329.5 486.5 330.3 482.5 331.5 478.5 333.1 474.5 334.8 470.8 337.8 465.0 340.8 459.8 346.8 450.2 358.0 433.5 363.8 425.8 367.8 421.1 373.1 415.5 379.8 409.2 384.8 405.1 390.8 400.7 398.8 395.5 403.8 392.8 408.8 390.3 413.0 388.5 417.8 386.7 421.8 385.5 426.2 384.5Z" stroke="#10a0c0" stroke-width="1.55"/><path d="M426.9 385.5 431.8 384.8 436.8 384.8 439.8 385.2 443.8 385.9 447.8 387.2 450.2 388.5 451.4 389.5 452.8 391.0 454.4 393.5 455.2 395.5 455.8 397.5 456.4 402.5 456.0 409.5 454.1 422.5 452.4 430.5 450.6 436.5 448.0 442.5 444.8 448.4 441.2 453.5 438.6 456.5 435.8 460.5 430.8 466.3 425.2 471.5 419.8 475.7 412.8 480.6 401.8 487.5 378.8 500.8 372.8 503.8 366.8 506.5 360.8 508.6 354.8 510.1 349.8 510.7 344.8 510.5 340.8 509.5 337.8 507.8 335.8 506.0 333.8 503.3 331.8 499.6 330.7 496.5 330.1 493.5 330.0 489.5 330.4 485.5 331.3 481.5 332.6 477.5 334.7 472.5 337.7 466.5 340.5 461.5 347.8 449.8 358.9 433.5 363.4 427.5 367.6 422.5 373.8 415.9 380.8 409.5 385.8 405.4 391.2 401.5 398.8 396.7 404.8 393.4 409.8 391.1 418.8 387.6 422.8 386.4 426.9 385.5Z" stroke="#10a0c0" stroke-width="1.55"/><path d="M427.8 386.5 432.8 385.8 437.8 385.8 442.8 386.5 446.8 387.7 448.4 388.5 449.8 389.4 451.9 391.5 453.6 394.5 454.7 398.5 455.1 403.5 454.7 409.5 452.8 422.1 450.8 432.2 449.6 436.5 447.2 442.5 444.6 447.5 440.6 453.5 438.0 456.5 435.8 459.7 430.8 465.6 425.6 470.5 419.2 475.5 412.8 480.0 400.8 487.5 377.9 500.5 372.8 503.1 366.8 505.7 360.8 507.8 354.8 509.3 349.8 509.7 344.8 509.4 342.8 508.9 340.8 508.2 338.0 506.5 335.8 504.4 333.8 501.7 332.2 498.5 331.3 495.5 330.8 492.5 330.8 488.5 331.3 484.5 332.3 480.5 333.3 477.5 335.4 472.5 337.8 467.5 341.2 461.5 344.8 455.6 351.8 445.0 359.8 433.6 363.8 428.4 368.7 422.5 374.4 416.5 380.8 410.6 385.8 406.5 391.8 402.2 399.8 397.3 404.8 394.6 410.8 391.9 418.8 388.9 423.5 387.5 427.8 386.5Z" stroke="#20c0b0" stroke-width="1.55"/><path d="M429.1 387.5 433.8 386.9 438.8 386.9 443.8 387.7 446.8 388.8 449.4 390.5 450.8 392.0 451.8 393.5 453.0 396.5 453.6 400.5 453.6 405.5 452.9 411.5 449.8 430.5 448.4 436.5 446.7 441.5 443.9 447.5 440.6 452.5 437.4 456.5 435.3 459.5 430.1 465.5 424.8 470.4 418.8 475.2 412.8 479.4 406.3 483.5 394.8 490.2 378.3 499.5 372.4 502.5 366.8 504.9 360.8 507.0 355.8 508.2 352.8 508.6 348.8 508.7 344.8 508.2 341.8 507.3 338.6 505.5 336.4 503.5 334.2 500.5 332.8 497.5 332.0 494.5 331.6 491.5 331.7 487.5 332.3 483.5 333.4 479.5 336.1 472.5 338.5 467.5 341.9 461.5 348.8 450.7 356.5 439.5 360.8 433.7 364.8 428.5 369.0 423.5 374.8 417.3 381.1 411.5 386.8 406.9 392.8 402.6 399.8 398.4 405.8 395.4 411.8 392.7 417.8 390.5 421.1 389.5 429.1 387.5Z" stroke="#20c0b0" stroke-width="1.55"/><path d="M430.9 388.5 435.8 387.9 439.8 388.0 443.8 388.8 446.8 390.1 448.8 391.7 449.8 392.9 450.8 394.5 451.8 397.5 452.2 400.5 452.2 405.5 451.6 410.5 449.1 423.5 447.2 435.5 446.0 440.5 444.8 443.5 443.0 447.5 439.9 452.5 437.4 455.5 434.8 459.2 429.8 465.0 424.8 469.6 418.7 474.5 412.8 478.7 406.8 482.5 400.0 486.5 377.8 498.9 371.8 501.9 365.8 504.4 360.8 506.1 355.8 507.2 352.8 507.6 348.8 507.6 344.8 506.9 341.8 505.9 338.8 504.1 336.8 502.3 334.8 499.5 333.5 496.5 332.7 493.5 332.4 489.5 332.8 485.5 333.6 481.5 334.8 477.5 336.8 472.5 339.3 467.5 342.1 462.5 345.8 456.5 356.8 440.6 365.2 429.5 371.2 422.5 375.8 417.6 380.8 413.0 386.8 408.0 393.8 403.1 400.8 399.1 405.8 396.6 411.8 394.1 421.8 390.7 430.9 388.5Z" stroke="#00ffff" stroke-width="1.55"/><path d="M433.3 389.5 437.8 389.2 440.8 389.4 443.8 390.1 446.5 391.5 448.4 393.5 449.5 395.5 450.4 398.5 450.7 402.5 450.6 406.5 450.0 410.5 446.6 425.5 445.4 436.5 444.3 441.5 442.8 445.7 440.8 449.5 439.0 452.5 433.8 459.4 429.3 464.5 423.9 469.5 417.8 474.4 412.0 478.5 405.8 482.4 399.8 485.8 377.8 498.1 371.8 501.1 365.8 503.5 360.8 505.1 356.8 506.0 352.8 506.5 348.8 506.4 344.8 505.6 341.8 504.4 338.8 502.4 336.8 500.4 335.0 497.5 333.9 494.5 333.4 491.5 333.4 487.5 333.9 483.5 334.9 479.5 336.3 475.5 337.6 472.5 340.0 467.5 342.8 462.5 346.6 456.5 350.0 451.5 357.8 440.6 367.2 428.5 371.5 423.5 375.8 418.9 381.5 413.5 387.8 408.4 395.8 403.0 399.8 400.7 404.8 398.2 412.8 394.9 422.8 391.8 428.8 390.3 433.3 389.5Z" stroke="#00ffff" stroke-width="1.55"/><path d="M430.2 391.5 434.8 390.8 438.8 390.6 441.8 391.1 443.1 391.5 444.8 392.4 446.8 394.2 448.1 396.5 448.9 399.5 449.1 402.5 449.0 406.5 448.5 410.5 447.5 415.5 444.7 426.5 444.1 430.5 443.4 438.5 442.6 442.5 441.7 445.5 439.8 449.5 437.9 452.5 433.6 458.5 428.8 464.0 423.8 468.7 417.8 473.6 411.8 477.9 405.8 481.6 399.8 485.1 377.8 497.2 371.8 500.2 366.8 502.3 361.8 503.9 356.8 505.0 352.8 505.4 348.8 505.2 345.8 504.5 342.8 503.4 339.8 501.5 337.7 499.5 335.8 496.5 334.8 493.5 334.4 490.5 334.3 487.5 334.8 483.5 335.7 479.5 337.4 474.5 340.7 467.5 343.5 462.5 346.8 457.3 354.4 446.5 367.5 429.5 371.8 424.4 376.4 419.5 381.8 414.4 388.8 408.7 394.8 404.7 401.8 400.8 405.8 398.8 410.8 396.8 419.8 393.9 430.2 391.5Z" stroke="#00ffff" stroke-width="1.55"/><path d="M433.6 392.5 437.8 392.3 440.8 392.7 442.9 393.5 444.8 395.0 445.9 396.5 447.0 399.5 447.6 403.5 447.5 407.5 447.2 410.5 446.4 414.5 443.8 424.2 442.8 428.5 441.4 440.5 440.3 445.5 438.5 449.5 436.8 452.5 432.8 458.1 429.1 462.5 423.8 467.7 418.2 472.5 412.7 476.5 407.8 479.7 401.8 483.2 378.8 495.9 372.8 499.0 368.8 500.7 362.8 502.8 358.8 503.7 354.8 504.3 351.8 504.3 347.8 503.8 344.8 502.9 342.0 501.5 339.8 499.8 337.8 497.5 336.7 495.5 335.7 492.5 335.3 489.5 335.3 485.5 336.0 481.5 337.1 477.5 338.5 473.5 340.9 468.5 343.6 463.5 347.4 457.5 350.2 453.5 364.5 434.5 371.9 425.5 377.5 419.5 383.8 413.7 388.8 409.7 392.8 406.9 399.8 402.7 407.8 399.0 415.8 396.2 424.8 393.9 433.6 392.5Z" stroke="#00ffff" stroke-width="1.55"/><path d="M428.4 394.5 432.8 394.1 436.8 394.1 439.8 394.6 441.8 395.4 442.8 396.2 443.8 397.3 444.8 398.9 445.7 401.5 446.2 405.5 446.1 409.5 445.4 413.5 441.8 428.0 439.9 440.5 439.1 444.5 438.1 447.5 436.7 450.5 432.9 456.5 431.4 458.5 428.0 462.5 423.0 467.5 417.8 472.0 411.8 476.4 406.8 479.6 400.8 483.1 377.8 495.7 372.8 498.2 367.8 500.4 362.8 502.0 358.8 502.9 354.8 503.4 350.8 503.3 347.8 502.7 344.5 501.5 341.3 499.5 339.4 497.5 338.0 495.5 336.8 492.5 336.2 489.5 336.1 486.5 336.5 482.5 337.5 478.5 339.2 473.5 342.0 467.5 344.3 463.5 348.1 457.5 354.8 448.2 369.5 429.5 373.8 424.5 377.6 420.5 382.9 415.5 388.8 410.6 395.8 405.9 402.8 402.1 406.8 400.3 410.8 398.7 415.8 397.1 419.8 396.1 424.8 395.0 428.4 394.5Z" stroke="#00ffff" stroke-width="1.55"/><path d="M429.9 395.5 433.8 395.5 436.8 395.8 439.8 396.7 441.8 398.2 443.5 400.5 444.3 402.5 444.9 405.5 445.0 408.5 444.3 414.5 440.8 428.3 438.4 441.5 437.4 445.5 436.3 448.5 434.3 452.5 431.8 456.5 427.8 461.5 422.8 466.7 417.4 471.5 411.8 475.7 406.8 479.0 401.8 481.9 381.8 492.9 371.8 498.0 366.8 500.1 362.8 501.3 357.8 502.3 353.8 502.6 349.8 502.2 346.8 501.4 343.8 499.9 341.9 498.5 340.0 496.5 338.7 494.5 337.6 491.5 337.1 488.5 337.0 485.5 337.4 481.5 338.4 477.5 339.8 473.5 342.6 467.5 344.9 463.5 348.1 458.5 355.3 448.5 370.3 429.5 373.8 425.5 378.5 420.5 383.9 415.5 389.8 410.7 394.8 407.3 399.8 404.4 406.8 401.0 411.8 399.2 415.8 397.9 422.8 396.4 429.9 395.5Z" stroke="#00ffff" stroke-width="1.55"/><path d="M421.0 397.5 425.8 396.8 430.8 396.5 434.8 396.9 437.8 397.7 439.8 398.8 441.8 400.8 443.2 403.5 443.8 406.5 443.9 410.5 443.2 415.5 439.8 429.3 437.6 440.5 436.2 445.5 433.7 451.5 430.7 456.5 427.6 460.5 421.8 466.8 416.8 471.2 410.8 475.7 405.8 479.0 400.8 481.9 381.8 492.3 372.8 497.0 367.8 499.1 362.8 500.7 356.8 501.8 352.8 501.8 349.8 501.4 347.8 500.8 345.8 500.0 343.4 498.5 341.8 497.1 340.5 495.5 339.3 493.5 338.2 490.5 337.8 487.5 337.7 485.5 338.0 482.5 338.5 479.5 340.4 473.5 342.2 469.5 344.9 464.5 348.7 458.5 355.2 449.5 366.2 435.5 374.6 425.5 379.8 420.1 383.8 416.4 388.8 412.3 395.8 407.4 400.8 404.6 405.8 402.2 411.8 399.9 416.8 398.4 421.0 397.5Z" stroke="#00ffff" stroke-width="1.55"/><path d="M427.3 397.5 430.8 397.5 434.8 398.0 437.8 399.2 439.7 400.5 441.3 402.5 442.3 404.5 442.9 407.5 443.1 410.5 442.8 413.5 442.1 417.5 438.8 430.6 436.4 441.5 435.2 445.5 433.2 450.5 430.4 455.5 425.9 461.5 421.8 465.9 416.8 470.5 411.6 474.5 406.8 477.8 395.8 484.1 377.8 493.9 371.8 496.9 366.8 498.9 362.8 500.2 357.8 501.1 354.8 501.2 351.8 501.0 348.8 500.4 345.8 499.1 343.5 497.5 341.6 495.5 340.3 493.5 339.1 490.5 338.5 487.5 338.5 483.5 338.9 480.5 339.6 477.5 341.0 473.5 343.2 468.5 345.4 464.5 349.2 458.5 355.9 449.5 370.8 430.7 374.8 426.1 379.2 421.5 384.5 416.5 389.8 412.2 395.8 408.1 401.8 404.7 406.8 402.4 411.8 400.5 416.8 399.1 420.8 398.2 427.3 397.5Z" stroke="#40b8c0" stroke-width="1.55"/><path d="M423.8 398.5 427.8 398.2 431.8 398.5 434.8 399.1 437.8 400.5 439.8 402.3 441.2 404.5 441.8 406.5 442.3 409.5 442.1 413.5 441.5 417.5 436.1 439.5 434.7 444.5 432.3 450.5 430.1 454.5 425.9 460.5 421.4 465.5 416.8 469.8 411.8 473.8 406.3 477.5 395.8 483.6 376.8 494.0 371.8 496.4 367.8 498.1 362.8 499.7 356.8 500.6 353.8 500.6 349.8 500.0 346.8 498.8 344.7 497.5 342.6 495.5 341.1 493.5 340.2 491.5 339.3 488.5 339.1 485.5 339.2 482.5 339.9 478.5 341.1 474.5 343.7 468.5 345.9 464.5 349.1 459.5 352.8 454.3 363.5 440.5 371.7 430.5 375.2 426.5 379.8 421.6 384.8 417.0 390.8 412.1 396.8 408.1 401.8 405.3 406.8 403.0 411.8 401.1 415.8 400.0 420.8 398.9 423.8 398.5Z" stroke="#40b8c0" stroke-width="1.55"/><path d="M421.0 399.5 425.8 399.0 429.8 399.0 432.8 399.5 435.8 400.5 437.8 401.8 438.8 402.7 439.8 404.0 441.0 406.5 441.5 409.5 441.5 413.5 440.9 417.5 436.0 437.5 434.3 443.5 432.4 448.5 431.0 451.5 428.7 455.5 425.1 460.5 420.8 465.3 416.4 469.5 410.8 473.9 405.8 477.3 395.8 483.2 381.8 490.8 371.8 496.0 366.8 498.0 362.8 499.2 358.8 500.0 356.8 500.1 352.8 500.0 349.8 499.4 346.8 498.1 344.8 496.7 343.5 495.5 342.0 493.5 340.9 491.5 340.2 489.5 339.8 487.5 339.6 484.5 339.9 481.5 340.4 478.5 341.6 474.5 343.2 470.5 346.4 464.5 349.6 459.5 356.8 449.7 367.8 435.9 375.8 426.5 380.6 421.5 384.8 417.6 389.8 413.5 396.8 408.7 401.8 405.8 405.8 404.0 412.8 401.4 416.8 400.3 421.0 399.5Z" stroke="#60e080" stroke-width="1.55"/><path d="M418.5 400.5 422.8 399.8 427.8 399.6 431.8 400.0 434.8 401.0 437.3 402.5 439.1 404.5 440.1 406.5 440.8 409.5 440.9 413.5 440.2 418.5 434.2 441.5 432.5 446.5 430.8 450.5 428.6 454.5 425.2 459.5 420.8 464.6 415.8 469.4 410.8 473.4 405.8 476.8 395.8 482.7 380.8 490.9 371.8 495.5 366.8 497.5 362.8 498.8 359.8 499.3 356.8 499.7 353.8 499.6 350.8 499.1 347.8 497.9 345.8 496.7 344.4 495.5 342.8 493.5 341.6 491.5 340.9 489.5 340.4 487.5 340.2 484.5 340.3 482.5 340.7 479.5 342.1 474.5 344.2 469.5 347.5 463.5 350.1 459.5 353.7 454.5 360.7 445.5 372.0 431.5 376.5 426.5 380.3 422.5 385.8 417.4 390.8 413.3 395.8 409.9 401.8 406.4 406.8 404.1 409.8 402.9 413.8 401.6 418.5 400.5Z" stroke="#60e080" stroke-width="1.55"/><path d="M421.9 400.5 425.8 400.2 429.8 400.4 432.8 401.1 435.8 402.5 437.8 404.2 439.3 406.5 439.9 408.5 440.3 411.5 440.2 415.5 439.2 420.5 434.5 438.5 432.9 443.5 431.0 448.5 429.0 452.5 427.3 455.5 424.5 459.5 420.2 464.5 415.8 468.8 410.8 472.8 405.8 476.3 399.8 480.0 390.8 485.1 376.8 492.7 371.8 495.1 366.8 497.1 362.8 498.3 359.8 498.9 356.8 499.2 353.8 499.1 350.8 498.5 348.2 497.5 345.8 495.9 344.3 494.5 342.9 492.5 341.9 490.5 341.0 487.5 340.7 484.5 340.9 481.5 341.4 478.5 342.2 475.5 344.1 470.5 347.3 464.5 350.5 459.5 353.4 455.5 360.8 446.0 368.4 436.5 376.8 426.8 380.9 422.5 385.2 418.5 390.8 413.9 397.8 409.2 401.8 406.9 406.8 404.6 413.8 402.1 417.8 401.2 421.9 400.5Z" stroke="#60e080" stroke-width="1.55"/><path d="M418.8 401.5 423.8 400.9 427.8 400.9 430.8 401.3 433.8 402.2 435.9 403.5 437.8 405.5 438.4 406.5 439.2 408.5 439.7 411.5 439.6 415.5 438.7 420.5 434.2 437.5 432.3 443.5 430.4 448.5 428.4 452.5 426.6 455.5 423.8 459.5 419.8 464.2 415.4 468.5 410.6 472.5 405.8 475.9 400.0 479.5 390.8 484.7 380.8 490.2 371.8 494.7 366.8 496.7 363.8 497.7 360.8 498.4 357.8 498.8 354.8 498.8 351.8 498.3 348.8 497.2 346.8 496.0 344.3 493.5 343.0 491.5 342.1 489.5 341.6 487.5 341.3 484.5 341.3 482.5 341.7 479.5 343.0 474.5 345.1 469.5 347.8 464.5 350.3 460.5 353.9 455.5 360.9 446.5 372.8 431.9 380.8 423.3 386.8 417.7 391.8 413.7 395.8 410.9 402.8 406.9 406.8 405.1 410.8 403.6 414.8 402.4 418.8 401.5Z" stroke="#80e080" stroke-width="1.55"/><path d="M422.8 401.5 426.8 401.4 429.8 401.7 432.8 402.6 434.8 403.6 436.8 405.4 438.1 407.5 439.0 410.5 439.2 413.5 438.9 417.5 438.0 421.5 433.3 438.5 431.4 444.5 429.3 449.5 427.2 453.5 424.6 457.5 422.4 460.5 418.9 464.5 414.8 468.5 409.9 472.5 405.6 475.5 399.8 479.2 390.8 484.3 380.8 489.8 371.8 494.3 364.8 497.0 361.8 497.8 357.8 498.4 354.8 498.3 351.8 497.8 348.8 496.6 346.8 495.3 345.0 493.5 343.7 491.5 342.8 489.5 342.0 486.5 341.8 483.5 342.0 480.5 342.5 477.5 343.4 474.5 346.0 468.5 347.8 465.2 350.8 460.5 357.4 451.5 365.4 441.5 372.9 432.5 377.3 427.5 381.2 423.5 386.8 418.3 392.9 413.5 396.8 410.8 400.8 408.5 407.8 405.1 411.8 403.7 415.8 402.6 418.8 402.0 422.8 401.5Z" stroke="#80e080" stroke-width="1.55"/><path d="M418.9 402.5 422.8 402.0 426.8 402.0 430.3 402.5 433.1 403.5 434.8 404.5 436.8 406.6 438.2 409.5 438.7 412.5 438.5 416.5 437.6 421.5 431.5 442.5 429.6 447.5 427.7 451.5 425.4 455.5 422.8 459.2 419.2 463.5 415.2 467.5 410.5 471.5 405.8 474.9 395.8 481.1 375.8 492.0 370.8 494.4 366.8 496.0 362.8 497.2 359.8 497.8 355.8 498.0 352.8 497.6 349.8 496.5 347.8 495.3 346.8 494.5 345.0 492.5 343.8 490.5 343.0 488.5 342.5 486.5 342.3 484.5 342.3 482.5 342.6 479.5 343.8 474.5 345.9 469.5 348.0 465.5 350.6 461.5 354.8 455.5 361.8 446.6 373.4 432.5 377.8 427.6 381.8 423.5 387.2 418.5 391.8 414.8 395.8 412.0 402.8 407.9 406.8 406.0 410.8 404.5 414.8 403.4 418.9 402.5Z" stroke="#80e080" stroke-width="1.55"/><path d="M416.3 403.5 420.8 402.8 424.8 402.5 428.8 402.8 431.8 403.7 433.8 404.7 435.8 406.5 436.8 407.9 437.5 409.5 438.1 412.5 438.0 416.5 437.1 421.5 430.9 442.5 429.0 447.5 427.1 451.5 425.4 454.5 422.7 458.5 418.8 463.2 414.8 467.3 409.8 471.5 405.7 474.5 400.8 477.7 395.8 480.7 383.8 487.4 375.8 491.6 370.8 494.0 366.8 495.6 362.8 496.8 358.8 497.5 355.8 497.5 352.8 497.1 349.8 495.9 347.8 494.7 346.5 493.5 345.0 491.5 344.0 489.5 343.3 487.5 342.8 483.5 342.8 481.5 343.2 478.5 344.6 473.5 346.8 468.6 348.5 465.5 351.0 461.5 354.8 456.1 364.0 444.5 374.0 432.5 381.8 424.1 386.8 419.4 391.6 415.5 394.4 413.5 397.8 411.2 401.8 408.9 408.8 405.7 412.8 404.4 416.3 403.5Z" stroke="#80e080" stroke-width="1.55"/><path d="M419.1 403.5 422.8 403.1 426.8 403.2 429.8 403.7 432.8 404.9 434.8 406.4 436.3 408.5 437.1 410.5 437.6 413.5 437.4 417.5 436.4 422.5 429.9 443.5 427.9 448.5 425.9 452.5 423.8 456.0 421.3 459.5 417.9 463.5 413.9 467.5 409.8 471.0 405.0 474.5 400.5 477.5 392.0 482.5 383.8 487.1 374.8 491.7 370.8 493.6 365.8 495.5 361.8 496.6 358.8 497.1 355.8 497.1 352.8 496.6 350.8 495.9 348.5 494.5 346.8 492.9 345.7 491.5 344.6 489.5 343.9 487.5 343.5 485.5 343.3 482.5 343.4 480.5 343.9 477.5 344.7 474.5 345.8 471.7 348.8 465.7 351.8 461.0 357.8 452.8 370.8 436.9 378.1 428.5 382.0 424.5 386.3 420.5 391.0 416.5 397.8 411.8 401.8 409.4 405.7 407.5 409.8 405.9 412.8 404.9 419.1 403.5Z" stroke="#80e080" stroke-width="1.55"/><path d="M421.3 403.5 424.8 403.4 427.8 403.6 430.8 404.3 433.1 405.5 434.4 406.5 435.3 407.5 436.5 409.5 437.1 411.5 437.4 414.5 437.0 418.5 435.9 423.5 429.6 443.5 427.8 448.0 425.8 452.1 423.8 455.5 421.0 459.5 417.8 463.3 413.8 467.3 409.8 470.7 404.8 474.4 400.8 477.1 391.8 482.4 383.8 486.9 374.9 491.5 370.8 493.4 366.8 495.0 362.8 496.2 359.8 496.8 356.8 496.9 353.8 496.6 350.8 495.6 348.8 494.4 346.8 492.5 345.8 491.2 344.8 489.3 343.9 486.5 343.6 484.5 343.6 481.5 343.8 479.2 344.4 476.5 345.3 473.5 346.5 470.5 349.2 465.5 351.7 461.5 354.8 457.1 360.8 449.3 370.8 437.2 378.4 428.5 382.3 424.5 386.6 420.5 391.8 416.2 398.7 411.5 402.1 409.5 406.3 407.5 409.8 406.1 413.8 404.9 417.8 404.0 421.3 403.5Z" stroke="#90e060" stroke-width="1.55"/><path d="M416.3 404.5 420.8 403.8 424.8 403.7 428.8 404.1 431.8 405.1 433.9 406.5 435.6 408.5 436.5 410.5 437.1 413.5 436.9 417.5 435.9 422.5 429.8 442.0 427.8 447.3 425.8 451.5 423.8 455.0 421.4 458.5 418.2 462.5 414.3 466.5 409.8 470.5 405.8 473.5 400.8 476.8 391.8 482.2 383.8 486.7 374.8 491.4 366.8 494.8 362.8 496.0 359.8 496.6 356.8 496.7 353.8 496.4 351.2 495.5 348.8 494.0 347.8 493.2 346.4 491.5 345.2 489.5 344.5 487.5 343.8 483.5 343.8 481.5 344.2 478.5 345.2 474.5 347.2 469.5 349.4 465.5 351.9 461.5 354.8 457.4 364.8 444.7 374.8 432.9 382.6 424.5 386.9 420.5 391.8 416.5 395.9 413.5 401.8 409.9 405.8 408.0 409.4 406.5 412.8 405.4 416.3 404.5Z" stroke="#90e060" stroke-width="1.55"/><path d="M417.7 404.5 421.8 404.0 425.8 404.0 428.8 404.5 431.7 405.5 433.8 406.9 435.2 408.5 436.2 410.5 436.8 413.5 436.7 417.5 435.8 421.9 433.8 428.7 428.9 443.5 426.9 448.5 425.5 451.5 423.8 454.5 420.8 458.9 417.8 462.5 414.0 466.5 409.8 470.1 405.4 473.5 400.8 476.6 391.8 482.0 383.8 486.5 374.8 491.2 366.8 494.6 362.8 495.8 358.8 496.5 355.8 496.4 352.8 495.8 350.8 495.0 348.8 493.7 347.5 492.5 346.1 490.5 345.1 488.5 344.5 486.5 344.1 482.5 344.1 480.5 344.6 477.5 345.8 473.4 347.0 470.5 349.1 466.5 352.2 461.5 358.0 453.5 371.1 437.5 378.8 428.8 383.0 424.5 387.3 420.5 390.9 417.5 397.8 412.6 401.3 410.5 405.2 408.5 410.8 406.3 413.8 405.4 417.7 404.5Z" stroke="#90e060" stroke-width="1.55"/><path d="M419.6 404.5 423.8 404.2 426.8 404.4 429.8 405.1 431.8 405.9 433.8 407.4 435.4 409.5 436.1 411.5 436.6 414.5 436.3 418.5 434.8 424.5 428.2 444.5 426.6 448.5 424.6 452.5 422.2 456.5 419.8 459.7 417.5 462.5 413.8 466.3 409.8 469.8 404.8 473.7 400.6 476.5 391.8 481.8 383.5 486.5 374.8 491.0 366.5 494.5 362.8 495.6 358.8 496.2 355.8 496.2 352.8 495.6 350.8 494.7 349.0 493.5 347.8 492.3 346.4 490.5 345.4 488.5 344.8 486.5 344.3 482.5 344.4 480.5 344.8 477.5 345.7 474.5 346.8 471.5 349.8 465.6 352.4 461.5 358.8 452.8 371.4 437.5 378.8 429.1 382.8 425.0 386.8 421.3 391.8 417.1 397.8 412.9 401.8 410.5 405.8 408.5 409.8 406.9 412.8 405.9 415.8 405.1 419.6 404.5Z" stroke="#b8e050" stroke-width="1.55"/><path d="M415.4 405.5 419.8 404.8 423.8 404.5 426.8 404.8 430.0 405.5 432.1 406.5 433.4 407.5 434.3 408.5 435.5 410.5 436.2 413.5 436.1 417.5 435.1 422.5 428.8 442.0 425.8 449.5 423.7 453.5 420.8 457.9 417.8 461.7 413.8 466.0 409.8 469.5 404.8 473.4 400.2 476.5 391.8 481.6 378.8 488.8 370.8 492.6 366.8 494.1 362.8 495.4 360.8 495.8 357.8 496.1 354.8 495.8 351.8 494.9 349.5 493.5 347.8 491.9 346.8 490.5 345.4 487.5 344.9 485.5 344.6 483.5 344.6 481.5 344.9 478.5 345.9 474.5 347.8 469.8 349.8 466.0 352.7 461.5 355.5 457.5 361.8 449.4 375.2 433.5 382.8 425.4 387.8 420.7 391.8 417.4 395.8 414.5 401.8 410.8 406.4 408.5 408.9 407.5 411.8 406.5 415.4 405.5Z" stroke="#b8e050" stroke-width="1.55"/><path d="M416.8 405.5 420.8 405.0 424.8 404.9 427.8 405.3 430.8 406.2 432.8 407.5 434.6 409.5 435.5 411.5 436.0 414.5 435.8 418.0 434.8 422.7 427.9 443.5 426.8 446.5 424.8 450.8 422.8 454.4 420.8 457.5 417.6 461.5 413.8 465.6 409.4 469.5 404.8 473.1 399.8 476.5 391.6 481.5 378.8 488.6 370.4 492.5 365.8 494.3 361.1 495.5 357.8 495.8 354.8 495.6 351.8 494.6 349.9 493.5 348.8 492.5 347.2 490.5 346.1 488.5 345.4 486.5 344.9 482.5 344.9 480.5 345.4 477.5 346.8 472.8 347.8 470.3 349.8 466.5 352.8 461.7 358.8 453.5 368.6 441.5 379.1 429.5 383.0 425.5 387.3 421.5 392.1 417.5 397.7 413.5 401.8 411.1 404.9 409.5 410.8 407.1 416.8 405.5Z" stroke="#b8e050" stroke-width="1.55"/><path d="M418.6 405.5 422.8 405.2 426.8 405.4 429.8 406.2 431.8 407.2 433.3 408.5 434.7 410.5 435.4 412.5 435.7 415.5 435.6 417.5 435.1 420.5 433.8 425.2 426.8 445.5 425.1 449.5 423.0 453.5 420.4 457.5 418.1 460.5 413.5 465.5 409.0 469.5 404.8 472.7 399.8 476.1 391.2 481.5 382.8 486.3 374.8 490.3 366.8 493.7 362.8 494.9 359.5 495.5 355.8 495.5 353.8 495.1 351.8 494.3 349.8 493.0 347.6 490.5 346.5 488.5 345.8 486.5 345.4 484.5 345.2 481.5 345.8 476.8 346.8 473.5 347.8 471.0 350.1 466.5 352.8 462.2 358.8 453.9 368.8 441.7 375.8 433.5 379.5 429.5 383.4 425.5 387.7 421.5 392.5 417.5 397.8 413.8 401.8 411.4 405.8 409.4 411.8 407.1 414.8 406.2 418.6 405.5Z" stroke="#b8e050" stroke-width="1.55"/><path d="M414.8 406.5 418.8 405.8 422.8 405.5 426.8 405.8 429.8 406.6 431.8 407.7 432.8 408.5 433.8 409.7 434.8 411.7 435.3 414.5 435.1 418.5 433.8 424.2 427.8 441.8 424.7 449.5 422.8 453.1 420.0 457.5 416.9 461.5 413.1 465.5 408.8 469.3 404.7 472.5 395.7 478.5 390.8 481.5 378.8 488.2 374.8 490.1 366.8 493.4 361.8 494.9 358.8 495.3 355.8 495.2 353.0 494.5 350.8 493.4 349.7 492.5 348.0 490.5 346.4 487.5 345.9 485.5 345.6 483.5 345.5 481.5 345.7 478.5 346.8 474.2 348.8 469.5 352.8 462.6 355.8 458.3 365.8 445.7 375.8 434.0 383.8 425.5 388.1 421.5 392.8 417.6 397.2 414.5 402.1 411.5 406.1 409.5 408.6 408.5 411.3 407.5 414.8 406.5Z" stroke="#b8e050" stroke-width="1.55"/><path d="M416.4 406.5 419.8 406.0 423.8 405.9 426.8 406.2 429.8 407.1 432.1 408.5 433.8 410.5 434.6 412.5 435.0 414.5 434.8 418.5 433.8 423.1 426.8 443.4 423.8 450.5 422.2 453.5 419.6 457.5 416.8 461.0 412.8 465.3 408.8 468.9 404.1 472.5 401.8 474.0 399.8 475.5 390.8 481.2 383.4 485.5 378.8 488.0 370.8 491.6 365.8 493.5 361.8 494.6 358.8 495.0 355.8 494.9 353.8 494.5 351.8 493.6 350.8 492.9 349.2 491.5 348.4 490.5 347.2 488.5 346.5 486.5 346.0 484.5 345.8 481.6 346.3 477.5 346.8 475.3 347.8 472.5 348.8 470.1 350.7 466.5 353.3 462.5 359.1 454.5 365.8 446.2 375.8 434.4 383.8 426.0 388.6 421.5 392.8 418.0 397.7 414.5 402.8 411.5 406.8 409.5 409.8 408.4 412.4 407.5 416.4 406.5Z" stroke="#d8e050" stroke-width="1.55"/><path d="M418.5 406.5 422.8 406.2 425.8 406.4 428.8 407.2 430.8 408.1 432.5 409.5 433.9 411.5 434.6 414.5 434.7 416.5 434.1 420.5 432.8 425.3 425.8 444.9 423.8 449.5 421.8 453.4 419.8 456.5 416.8 460.5 412.0 465.5 408.7 468.5 403.8 472.3 399.2 475.5 391.5 480.5 386.6 483.5 378.8 487.7 369.8 491.7 364.7 493.5 360.7 494.5 357.8 494.7 355.1 494.5 352.8 493.7 350.8 492.5 349.7 491.5 348.2 489.5 346.8 486.3 346.3 483.5 346.2 481.5 346.4 478.5 346.8 476.5 347.7 473.5 348.8 470.9 350.8 467.0 353.6 462.5 359.8 454.1 372.8 438.4 379.9 430.5 383.8 426.5 388.0 422.5 392.8 418.5 397.8 414.9 401.7 412.5 406.8 409.9 410.8 408.3 413.6 407.5 418.5 406.5Z" stroke="#d8e050" stroke-width="1.55"/><path d="M415.0 407.5 418.8 406.9 422.8 406.6 425.8 406.9 428.4 407.5 430.8 408.6 431.9 409.5 432.8 410.5 433.8 412.5 434.2 414.5 434.2 417.5 433.8 420.5 431.8 427.0 425.8 443.5 423.8 448.5 421.8 452.5 418.8 457.1 416.2 460.5 412.8 464.1 408.0 468.5 403.8 471.8 395.7 477.5 390.8 480.7 382.8 485.4 374.5 489.5 366.8 492.5 362.8 493.7 358.8 494.4 356.8 494.4 353.8 493.7 351.4 492.5 350.3 491.5 348.8 489.7 347.3 486.5 346.8 484.5 346.6 482.5 346.8 478.3 347.8 474.3 349.8 469.7 351.5 466.5 353.8 462.9 356.8 458.5 366.4 446.5 376.7 434.5 384.3 426.5 388.8 422.3 393.4 418.5 397.5 415.5 402.4 412.5 408.7 409.5 411.4 408.5 415.0 407.5Z" stroke="#d8e050" stroke-width="1.55"/><path d="M417.2 407.5 421.8 407.1 424.8 407.2 426.8 407.6 429.8 408.7 431.8 410.2 432.8 411.5 433.8 414.5 433.9 416.5 433.7 418.5 432.8 422.8 424.8 444.7 421.8 451.4 419.8 454.8 417.9 457.5 415.5 460.5 411.8 464.5 407.8 468.0 403.4 471.5 395.2 477.5 390.8 480.4 382.8 485.2 378.8 487.3 373.8 489.5 365.8 492.5 362.2 493.5 358.8 494.0 355.8 493.9 353.8 493.3 351.8 492.2 349.8 490.3 348.6 488.5 347.8 486.5 347.1 483.5 347.0 481.5 347.4 477.5 347.9 475.5 348.8 472.9 349.8 470.5 351.8 466.8 354.5 462.5 359.8 455.2 369.8 443.0 380.8 430.6 384.8 426.6 388.8 422.9 392.8 419.5 398.2 415.5 402.8 412.7 406.8 410.7 412.8 408.5 417.2 407.5Z" stroke="#ffff00" stroke-width="1.55"/><path d="M414.6 408.5 418.8 407.8 421.8 407.6 424.8 407.8 428.0 408.5 430.0 409.5 431.8 411.2 432.8 413.0 433.3 415.5 433.3 417.5 432.8 421.1 430.8 427.2 427.4 435.5 422.8 447.9 420.8 451.9 417.8 456.7 414.8 460.5 411.8 463.6 403.8 470.5 394.7 477.5 390.2 480.5 382.8 485.0 378.8 487.1 373.8 489.3 366.8 491.7 361.8 493.1 358.8 493.6 356.0 493.5 353.8 492.8 351.8 491.6 349.8 489.5 348.8 487.6 348.1 485.5 347.7 483.5 347.5 481.5 347.8 477.8 348.8 474.1 350.8 469.6 354.3 463.5 357.8 458.5 363.8 450.8 373.8 439.0 380.8 431.3 388.8 423.5 394.8 418.5 398.8 415.7 402.3 413.5 408.5 410.5 411.1 409.5 414.6 408.5Z" stroke="#ffff00" stroke-width="1.55"/><path d="M417.3 408.5 420.8 408.2 423.8 408.3 425.8 408.6 428.8 409.7 430.8 411.2 431.8 412.5 432.7 415.5 432.8 417.5 432.4 420.5 431.6 423.5 426.2 436.5 422.8 445.9 419.8 452.2 417.8 455.4 415.8 458.1 413.8 460.4 410.8 463.5 402.9 470.5 398.1 474.5 390.8 479.8 386.7 482.5 381.8 485.3 378.8 486.8 373.8 489.0 369.8 490.4 361.8 492.6 358.8 493.1 356.8 493.0 354.4 492.5 352.6 491.5 351.4 490.5 349.9 488.5 348.7 485.5 348.1 481.5 348.2 479.5 348.7 476.5 350.0 472.5 352.4 467.5 355.5 462.5 360.8 455.2 370.8 443.1 380.8 431.9 388.8 424.2 393.8 419.9 398.8 416.3 405.3 412.5 407.8 411.3 411.8 409.8 417.3 408.5Z" stroke="#ffff00" stroke-width="1.55"/><path d="M415.4 409.5 419.8 408.9 422.8 408.9 425.8 409.4 427.8 410.2 429.7 411.5 430.8 412.9 431.8 415.2 432.1 417.5 431.8 420.5 430.8 423.9 425.2 436.5 421.8 445.6 418.8 451.9 415.8 456.4 413.8 458.9 410.4 462.5 403.1 469.5 398.6 473.5 390.8 479.5 382.8 484.5 377.8 487.1 372.8 489.1 368.8 490.4 361.8 492.0 358.8 492.5 356.8 492.5 354.8 491.9 353.8 491.5 352.8 490.8 351.8 489.8 350.8 488.5 349.8 486.5 349.3 484.5 348.9 482.5 348.8 480.5 349.3 476.5 350.8 472.0 353.0 467.5 356.0 462.5 361.0 455.5 367.8 447.2 378.1 435.5 384.9 428.5 389.8 423.9 396.6 418.5 402.8 414.5 408.9 411.5 411.8 410.5 415.4 409.5Z" stroke="#ffff00" stroke-width="1.55"/><path d="M414.5 410.5 417.8 409.9 420.8 409.7 423.8 410.0 425.8 410.5 427.4 411.5 428.3 412.5 430.4 415.5 430.9 416.5 431.1 418.5 430.8 421.3 429.8 424.3 425.2 433.5 418.8 448.6 416.8 452.3 414.6 455.5 411.4 459.5 406.0 465.5 401.2 470.5 398.0 473.5 394.4 476.5 390.4 479.5 382.8 484.3 378.8 486.4 374.8 488.1 371.8 489.2 367.8 490.2 361.8 491.3 358.8 491.7 356.4 491.5 353.8 490.4 352.8 489.5 351.8 488.2 350.8 486.2 350.3 484.5 349.8 482.5 349.7 480.5 350.1 476.5 351.7 471.5 354.1 466.5 358.5 459.5 361.5 455.5 369.8 445.5 378.7 435.5 385.8 428.3 389.8 424.7 396.3 419.5 402.4 415.5 408.4 412.5 411.0 411.5 414.5 410.5Z" stroke="#ffff00" stroke-width="1.55"/><path d="M414.8 411.5 419.8 410.9 421.8 411.0 423.8 411.5 425.3 412.5 427.0 415.5 429.2 417.5 429.7 418.5 429.7 420.5 428.8 423.5 425.0 430.5 420.2 441.5 417.3 447.5 413.2 454.5 408.2 461.5 403.3 467.5 397.5 473.5 394.0 476.5 390.0 479.5 385.8 482.3 381.8 484.6 378.8 486.2 374.8 487.9 371.8 488.9 367.8 489.9 362.8 490.5 358.8 490.5 356.8 490.2 354.8 489.3 353.8 488.4 352.8 487.0 351.8 485.1 351.3 483.5 350.8 481.5 350.7 479.5 351.1 475.5 352.3 471.5 354.6 466.5 357.0 462.5 361.2 456.5 369.8 446.1 378.8 436.0 385.8 428.9 389.8 425.4 393.8 422.1 397.4 419.5 402.8 416.1 405.8 414.6 408.8 413.3 411.0 412.5 414.8 411.5Z" stroke="#ffff00" stroke-width="1.55"/><path d="M411.9 413.5 413.8 413.1 416.8 413.0 418.8 413.2 420.0 413.5 420.8 413.9 421.5 414.5 422.3 415.5 425.4 420.5 425.6 421.5 425.6 422.5 424.2 427.5 422.6 432.5 421.1 436.5 418.4 442.5 415.2 448.5 412.3 453.5 409.2 458.5 405.0 464.5 399.9 470.5 396.9 473.5 393.5 476.5 389.8 479.4 385.8 482.1 378.8 486.0 374.8 487.6 371.8 488.6 368.8 489.3 365.8 489.7 362.8 489.8 359.8 489.5 357.8 488.9 355.8 487.8 354.8 487.0 353.6 485.5 352.1 482.5 351.7 480.5 351.5 478.5 352.0 474.5 353.2 470.5 355.0 466.5 357.4 462.5 361.7 456.5 367.8 449.0 378.9 436.5 385.8 429.6 389.8 426.0 394.8 422.1 397.8 420.0 401.8 417.6 406.8 415.1 409.8 414.0 411.9 413.5Z" stroke="#ffff00" stroke-width="1.55"/><path d="M408.7 415.5 411.8 414.8 414.8 414.7 416.8 415.1 418.8 416.1 419.8 417.0 420.8 418.2 422.1 420.5 422.8 423.5 422.9 426.5 422.4 429.5 421.2 433.5 419.2 438.5 417.3 442.5 411.3 453.5 407.1 460.5 405.0 463.5 402.0 467.5 399.4 470.5 396.5 473.5 393.1 476.5 389.8 479.1 385.8 481.8 381.8 484.2 378.8 485.7 374.8 487.4 371.8 488.4 368.8 489.0 365.8 489.3 362.8 489.2 360.8 488.9 358.8 488.3 356.8 487.2 354.8 485.4 354.1 484.5 353.0 482.5 352.3 479.5 352.2 476.5 352.5 474.5 353.3 471.5 355.0 467.5 357.1 463.5 359.8 459.5 364.8 453.1 373.1 443.5 379.4 436.5 386.8 429.2 390.8 425.8 393.8 423.5 398.8 420.1 402.8 417.9 406.8 416.1 408.7 415.5Z" stroke="#e8e020" stroke-width="1.55"/><path d="M408.6 416.5 411.8 415.9 414.8 416.1 416.8 416.8 418.8 418.3 420.4 420.5 421.3 422.5 421.8 425.5 421.7 428.5 421.0 431.5 420.0 434.5 418.4 438.5 415.5 444.5 408.2 457.5 404.5 463.5 402.3 466.5 398.9 470.5 396.0 473.5 390.2 478.5 384.8 482.2 381.8 484.0 377.8 486.0 374.8 487.2 371.8 488.1 368.8 488.7 365.8 489.0 362.8 488.7 360.8 488.3 358.8 487.5 356.8 486.3 354.8 484.2 353.4 481.5 352.8 478.5 353.0 474.5 354.1 470.5 355.3 467.5 357.5 463.5 360.2 459.5 364.9 453.5 373.8 443.2 379.9 436.5 386.8 429.8 390.8 426.4 393.8 424.1 398.8 420.8 403.8 418.2 406.8 417.0 408.6 416.5Z" stroke="#e8e020" stroke-width="1.55"/><path d="M408.0 417.5 410.8 417.0 413.8 417.1 415.8 417.8 417.8 419.1 418.8 420.2 419.7 421.5 420.5 423.5 420.9 425.5 420.9 428.5 420.3 431.5 419.3 434.5 415.3 443.5 406.5 459.5 402.5 465.5 398.5 470.5 395.8 473.3 392.8 476.1 389.8 478.5 385.8 481.4 381.8 483.8 378.8 485.3 374.8 487.0 371.8 487.9 367.8 488.5 364.8 488.5 361.8 488.1 359.8 487.4 357.8 486.3 355.8 484.5 354.8 483.2 354.0 481.5 353.3 478.5 353.3 475.5 354.1 471.5 355.7 467.5 357.9 463.5 360.6 459.5 365.3 453.5 374.0 443.5 380.4 436.5 386.8 430.3 390.8 426.9 394.8 424.0 397.8 422.1 403.8 418.9 408.0 417.5Z" stroke="#e8d000" stroke-width="1.55"/><path d="M407.2 418.5 409.8 418.0 412.8 418.0 414.8 418.5 416.8 419.6 418.5 421.5 419.6 423.5 420.1 425.5 420.2 428.5 419.9 430.5 419.0 433.5 417.4 437.5 415.1 442.5 406.0 459.5 404.2 462.5 401.4 466.5 396.3 472.5 392.8 475.8 389.5 478.5 385.8 481.2 382.8 483.0 377.8 485.6 374.8 486.8 371.8 487.7 368.8 488.2 366.8 488.3 363.8 488.1 361.8 487.6 359.8 486.9 357.8 485.7 355.8 483.7 354.5 481.5 353.7 478.5 353.7 475.5 354.5 471.5 355.6 468.5 357.6 464.5 360.2 460.5 365.6 453.5 374.4 443.5 380.8 436.5 386.8 430.7 390.8 427.4 395.8 423.8 398.8 422.0 402.8 420.1 407.2 418.5Z" stroke="#e8d000" stroke-width="1.55"/><path d="M406.1 419.5 408.8 418.9 411.8 418.8 413.8 419.1 415.8 420.1 417.4 421.5 418.7 423.5 419.3 425.5 419.5 428.5 419.3 430.5 418.4 433.5 416.4 438.5 414.5 442.5 405.6 459.5 401.7 465.5 398.6 469.5 395.9 472.5 391.8 476.3 389.2 478.5 385.8 480.9 381.8 483.4 378.8 484.9 373.8 486.9 370.8 487.6 367.8 488.0 364.8 487.9 362.8 487.5 360.8 486.9 358.3 485.5 356.2 483.5 355.0 481.5 354.1 478.5 354.0 475.5 354.8 471.5 356.3 467.5 357.9 464.5 360.5 460.5 366.0 453.5 377.4 440.5 383.8 433.9 386.8 431.2 391.8 427.1 395.8 424.3 400.8 421.6 403.8 420.3 406.1 419.5Z" stroke="#e8d000" stroke-width="1.55"/><path d="M405.0 420.5 407.8 419.8 410.8 419.5 412.8 419.8 414.8 420.5 416.8 422.1 417.8 423.5 418.6 425.5 418.9 428.5 418.7 430.5 417.8 433.5 414.4 441.5 405.2 459.5 401.4 465.5 398.3 469.5 395.6 472.5 392.5 475.5 389.8 477.7 384.8 481.4 381.8 483.2 377.8 485.2 372.8 487.0 370.8 487.4 367.8 487.8 365.8 487.7 362.8 487.2 360.8 486.5 358.8 485.3 356.8 483.5 355.5 481.5 354.5 478.5 354.4 475.5 355.1 471.5 356.2 468.5 358.2 464.5 360.8 460.5 365.8 454.1 374.8 443.8 380.8 437.3 386.8 431.6 390.8 428.3 395.8 424.8 400.8 422.1 405.0 420.5Z" stroke="#e8d000" stroke-width="1.55"/><path d="M407.4 420.5 409.8 420.2 411.8 420.4 413.8 420.9 415.8 422.2 416.9 423.5 417.9 425.5 418.3 427.5 418.3 429.5 417.9 431.5 416.9 434.5 413.4 442.5 404.2 460.5 400.3 466.5 395.2 472.5 392.2 475.5 388.8 478.3 384.8 481.2 381.8 483.0 377.8 485.0 374.8 486.2 371.8 487.0 367.8 487.5 364.8 487.3 362.8 486.9 360.8 486.1 358.8 484.9 356.8 482.9 355.4 480.5 354.7 477.5 354.7 475.5 354.9 473.5 355.7 470.5 357.4 466.5 360.4 461.5 363.3 457.5 368.8 451.0 377.8 440.9 383.8 434.7 387.8 431.1 392.8 427.2 397.8 424.1 402.8 421.8 407.4 420.5Z" stroke="#e8d000" stroke-width="1.55"/><path d="M405.6 421.5 408.8 421.0 410.8 421.0 412.8 421.4 414.8 422.4 416.0 423.5 417.2 425.5 417.7 427.5 417.7 429.5 417.3 431.5 416.4 434.5 412.4 443.5 404.4 459.5 402.1 463.5 400.0 466.5 397.6 469.5 394.9 472.5 391.8 475.5 388.8 478.1 385.5 480.5 382.8 482.2 377.8 484.8 374.8 486.0 371.8 486.8 367.8 487.3 364.8 487.0 362.8 486.5 360.8 485.7 358.9 484.5 357.0 482.5 355.8 480.5 355.1 477.5 355.1 474.5 355.7 471.5 357.2 467.5 358.7 464.5 361.3 460.5 366.1 454.5 377.6 441.5 381.4 437.5 386.8 432.4 391.8 428.3 395.8 425.7 400.8 423.1 405.6 421.5Z" stroke="#e8d000" stroke-width="1.55"/><path d="M404.0 422.5 406.8 421.8 409.8 421.6 411.8 421.9 413.8 422.6 415.0 423.5 415.8 424.4 416.5 425.5 417.1 427.5 417.2 429.5 416.8 431.5 415.8 434.5 412.4 442.5 404.1 459.5 402.4 462.5 400.4 465.5 398.2 468.5 395.6 471.5 391.6 475.5 388.8 477.9 385.2 480.5 381.8 482.6 378.8 484.2 373.8 486.1 370.8 486.8 368.8 487.0 365.8 486.9 363.8 486.5 361.8 485.9 359.8 484.8 357.8 483.0 356.2 480.5 355.4 477.5 355.3 474.5 355.9 471.5 357.4 467.5 359.0 464.5 361.6 460.5 366.4 454.5 375.2 444.5 380.8 438.5 385.8 433.6 390.8 429.4 394.8 426.7 399.8 424.0 404.0 422.5Z" stroke="#e0a800" stroke-width="1.55"/><path d="M406.3 422.5 408.8 422.2 410.8 422.4 412.8 423.0 413.8 423.5 415.0 424.5 415.8 425.5 416.3 426.5 416.6 428.5 416.5 430.5 414.9 435.5 411.5 443.5 403.2 460.5 401.5 463.5 399.4 466.5 397.1 469.5 394.4 472.5 391.8 475.0 388.8 477.6 385.8 479.9 382.8 481.8 377.8 484.5 372.8 486.2 369.8 486.7 367.8 486.8 365.8 486.7 363.8 486.3 361.8 485.5 359.8 484.4 357.8 482.5 356.8 481.0 356.2 479.5 355.6 476.5 355.7 473.5 356.5 470.5 358.1 466.5 360.5 462.5 363.4 458.5 367.6 453.5 378.3 441.5 383.8 435.8 387.8 432.2 391.8 429.1 396.8 425.9 401.8 423.7 406.3 422.5Z" stroke="#e0a800" stroke-width="1.55"/><path d="M404.1 423.5 406.8 423.0 408.8 422.9 410.8 423.1 412.8 423.7 413.8 424.3 414.8 425.3 415.6 426.5 415.9 427.5 416.1 429.5 415.7 431.5 414.8 434.5 411.5 442.5 406.8 452.1 403.4 459.5 401.2 463.5 399.1 466.5 394.8 471.7 391.8 474.8 388.8 477.4 383.8 481.0 380.8 482.8 377.8 484.3 372.8 486.0 370.8 486.4 367.8 486.6 365.8 486.4 363.8 486.0 361.8 485.2 359.8 484.0 357.8 481.9 356.5 479.5 356.0 477.5 355.9 474.5 356.4 471.5 357.4 468.5 359.5 464.5 362.1 460.5 366.8 454.7 377.8 442.4 381.8 438.1 386.8 433.4 391.8 429.4 395.8 426.9 399.8 424.9 404.1 423.5Z" stroke="#e0a800" stroke-width="1.55"/><path d="M402.2 424.5 404.8 423.9 407.8 423.5 409.8 423.6 411.8 424.1 413.8 425.2 414.8 426.4 415.3 427.5 415.5 429.5 415.1 431.5 414.2 434.5 411.5 441.5 406.8 451.3 403.1 459.5 401.5 462.5 399.6 465.5 395.6 470.5 390.7 475.5 388.4 477.5 384.8 480.2 381.8 482.1 378.8 483.7 373.8 485.6 370.8 486.2 368.8 486.4 366.8 486.3 364.8 486.0 362.8 485.4 360.8 484.3 358.7 482.5 357.3 480.5 356.3 477.5 356.1 474.5 356.6 471.5 357.7 468.5 359.1 465.5 361.7 461.5 366.8 455.0 375.8 444.9 381.8 438.5 385.8 434.6 389.8 431.2 393.8 428.4 397.8 426.2 402.2 424.5Z" stroke="#e0a800" stroke-width="1.55"/><path d="M404.1 424.5 406.8 424.1 408.8 424.1 410.8 424.5 412.8 425.4 413.8 426.2 414.6 427.5 414.9 428.5 414.8 430.5 413.4 435.5 410.6 442.5 406.8 450.5 402.3 460.5 400.6 463.5 398.6 466.5 394.5 471.5 391.5 474.5 388.8 476.9 384.0 480.5 380.8 482.5 377.8 484.0 374.8 485.1 372.8 485.7 368.8 486.2 366.8 486.1 364.8 485.8 362.8 485.1 360.8 484.0 358.8 482.2 357.8 480.8 357.1 479.5 356.5 477.5 356.4 474.5 356.9 471.5 358.3 467.5 359.9 464.5 362.6 460.5 367.5 454.5 378.3 442.5 382.8 437.8 386.8 434.1 391.8 430.1 395.8 427.6 399.8 425.8 404.1 424.5Z" stroke="#e0a800" stroke-width="1.55"/><path d="M401.9 425.5 404.8 424.9 406.8 424.7 408.8 424.8 410.8 425.2 412.8 426.3 413.8 427.4 414.2 428.5 414.2 429.5 414.0 431.5 413.2 434.5 411.0 440.5 405.8 451.8 402.5 459.5 401.0 462.5 399.0 465.5 396.8 468.5 394.2 471.5 391.3 474.5 388.8 476.7 383.7 480.5 380.8 482.3 377.8 483.8 374.8 485.0 372.8 485.5 368.8 486.0 366.8 485.9 364.8 485.5 362.8 484.8 360.8 483.6 358.8 481.8 357.4 479.5 356.8 477.5 356.6 474.5 357.1 471.5 358.1 468.5 359.6 465.5 362.1 461.5 366.8 455.6 376.8 444.5 381.8 439.1 385.8 435.3 389.8 431.9 393.8 429.1 397.8 427.0 401.9 425.5Z" stroke="#e89000" stroke-width="1.55"/><path d="M404.0 425.5 406.8 425.3 408.8 425.4 410.8 426.0 411.8 426.5 412.9 427.5 413.4 428.5 413.6 429.5 413.4 431.5 412.4 435.5 411.0 439.5 405.8 451.0 402.7 458.5 400.1 463.5 397.3 467.5 393.0 472.5 387.8 477.3 382.8 480.9 377.8 483.6 374.8 484.8 372.8 485.3 368.8 485.8 366.8 485.7 364.8 485.3 362.8 484.5 360.8 483.3 359.0 481.5 357.7 479.5 356.9 476.5 356.9 473.5 357.6 470.5 358.8 467.5 360.4 464.5 363.1 460.5 367.8 454.8 378.9 442.5 383.8 437.5 387.8 433.8 391.8 430.8 395.8 428.3 399.8 426.6 404.0 425.5Z" stroke="#e89000" stroke-width="1.55"/><path d="M401.3 426.5 403.8 426.0 405.8 425.8 407.8 425.9 409.8 426.4 411.8 427.6 412.5 428.5 412.8 429.5 412.8 430.5 412.2 434.5 410.2 440.5 405.6 450.5 402.0 459.5 400.4 462.5 398.5 465.5 394.6 470.5 389.7 475.5 384.7 479.5 381.5 481.5 378.8 483.0 373.8 484.9 369.8 485.6 367.8 485.6 365.8 485.3 363.8 484.7 361.5 483.5 359.3 481.5 358.0 479.5 357.4 477.5 357.1 474.5 357.5 471.5 358.5 468.5 360.0 465.5 362.6 461.5 366.8 456.2 377.4 444.5 381.8 439.8 385.8 435.9 389.8 432.6 393.8 429.8 397.8 427.7 401.3 426.5Z" stroke="#e89000" stroke-width="1.55"/><path d="M403.6 426.5 405.8 426.4 407.8 426.6 410.3 427.5 411.4 428.5 411.9 429.5 412.1 430.5 412.0 432.5 411.4 435.5 410.1 439.5 404.8 451.5 402.2 458.5 400.2 462.5 397.6 466.5 393.5 471.5 388.3 476.5 382.9 480.5 377.8 483.3 374.8 484.4 372.8 485.0 368.8 485.4 366.8 485.3 364.8 484.8 361.8 483.4 359.7 481.5 358.3 479.5 357.6 477.5 357.3 474.5 357.8 471.5 358.8 468.5 360.2 465.5 362.8 461.5 367.7 455.5 378.8 443.2 382.8 439.1 386.8 435.3 391.8 431.4 395.8 429.0 399.8 427.3 403.6 426.5Z" stroke="#e89000" stroke-width="1.55"/><path d="M400.6 427.5 402.8 427.1 404.8 426.9 406.8 427.0 408.8 427.6 410.3 428.5 411.0 429.5 411.3 430.5 411.4 432.5 410.6 436.5 408.9 441.5 404.8 450.7 401.4 459.5 399.9 462.5 398.0 465.5 394.1 470.5 389.2 475.5 384.1 479.5 378.8 482.6 376.8 483.5 373.8 484.6 369.8 485.2 367.8 485.2 365.8 484.9 363.8 484.2 361.8 483.1 360.0 481.5 358.6 479.5 357.9 477.5 357.6 474.5 358.0 471.5 359.0 468.5 360.4 465.5 362.3 462.5 365.4 458.5 368.8 454.6 379.8 442.5 385.8 436.5 389.8 433.2 393.8 430.4 396.8 428.9 400.6 427.5Z" stroke="#e89000" stroke-width="1.55"/><path d="M402.9 427.5 404.8 427.4 406.8 427.7 408.8 428.4 409.8 429.3 410.5 430.5 410.7 431.5 410.6 434.5 409.9 437.5 408.9 440.5 404.5 450.5 401.2 459.5 399.1 463.5 396.3 467.5 392.0 472.5 387.8 476.5 382.8 480.2 377.8 482.9 374.8 484.1 372.8 484.7 370.8 485.0 368.8 485.1 366.8 484.9 364.8 484.3 363.0 483.5 361.8 482.7 359.8 480.8 358.5 478.5 357.9 476.5 357.8 473.5 358.4 470.5 359.6 467.5 361.3 464.5 363.3 461.5 367.8 456.0 378.8 443.9 382.8 439.7 386.8 436.0 390.8 432.8 394.8 430.2 398.8 428.4 402.9 427.5Z" stroke="#e89000" stroke-width="1.55"/><path d="M399.7 428.5 401.8 428.1 403.8 427.9 405.8 428.1 407.8 428.7 408.9 429.5 409.6 430.5 410.0 431.5 410.1 433.5 409.7 436.5 408.5 440.5 404.2 450.5 401.3 458.5 399.4 462.5 396.8 466.5 392.7 471.5 387.8 476.2 382.8 480.0 377.8 482.8 375.8 483.6 372.8 484.5 370.8 484.8 368.8 484.9 366.8 484.6 364.8 484.1 361.9 482.5 359.9 480.5 358.8 478.6 358.2 476.5 358.0 474.5 358.4 471.5 359.4 468.5 360.9 465.5 362.8 462.5 365.8 458.6 368.8 455.1 380.8 442.1 385.8 437.2 389.8 433.8 392.8 431.7 396.8 429.5 399.7 428.5Z" stroke="#e89000" stroke-width="1.55"/><path d="M401.7 428.5 404.9 428.5 406.8 429.0 407.8 429.6 408.7 430.5 409.2 431.5 409.5 433.5 409.4 435.5 408.0 440.5 403.8 450.5 401.1 458.5 399.1 462.5 396.6 466.5 392.5 471.5 387.8 476.0 383.3 479.5 380.8 481.0 377.8 482.6 373.8 484.1 371.8 484.5 369.8 484.7 367.8 484.6 365.8 484.2 364.0 483.5 362.3 482.5 360.2 480.5 359.0 478.5 358.4 476.5 358.3 473.5 358.9 470.5 360.0 467.5 361.7 464.5 363.7 461.5 367.8 456.5 379.7 443.5 383.6 439.5 386.8 436.6 390.8 433.4 394.8 430.9 398.8 429.1 401.7 428.5Z" stroke="#e87000" stroke-width="1.55"/><path d="M398.8 429.5 400.8 429.0 402.8 428.9 404.8 429.1 406.2 429.5 407.7 430.5 408.4 431.5 408.8 432.5 408.9 434.5 408.5 437.5 407.6 440.5 403.5 450.5 400.8 458.5 398.9 462.5 397.0 465.5 393.1 470.5 388.2 475.5 383.0 479.5 378.8 481.9 375.8 483.3 373.8 483.9 369.8 484.5 367.8 484.4 365.8 484.0 364.6 483.5 362.7 482.5 360.8 480.8 359.8 479.4 358.8 477.0 358.5 474.5 358.6 472.5 359.4 469.5 360.7 466.5 362.8 463.1 365.5 459.5 368.8 455.7 380.8 442.7 384.8 438.7 388.8 435.2 391.8 433.0 395.8 430.7 398.8 429.5Z" stroke="#e87000" stroke-width="1.55"/><path d="M400.5 429.5 403.8 429.4 405.8 430.0 406.8 430.6 407.6 431.5 408.1 432.5 408.4 434.5 408.2 436.5 407.8 438.5 406.8 441.5 403.1 450.5 400.5 458.5 398.6 462.5 396.1 466.5 392.0 471.5 387.8 475.6 382.8 479.4 377.8 482.3 373.8 483.7 371.8 484.1 369.8 484.3 367.8 484.2 365.8 483.7 362.8 482.2 360.9 480.5 359.6 478.5 358.9 476.5 358.7 473.5 359.0 471.5 360.0 468.5 361.5 465.5 363.4 462.5 365.8 459.4 369.8 454.9 381.3 442.5 386.5 437.5 389.8 434.8 393.8 432.1 396.8 430.6 400.5 429.5Z" stroke="#e87000" stroke-width="1.55"/><path d="M398.0 430.5 399.8 430.0 401.8 429.8 403.8 430.0 405.4 430.5 406.7 431.5 407.3 432.5 407.6 433.5 407.8 435.5 407.5 437.5 406.7 440.5 402.7 450.5 400.2 458.5 398.9 461.5 396.8 465.1 392.8 470.3 388.7 474.5 383.9 478.5 379.0 481.5 374.8 483.3 370.8 484.1 368.8 484.1 366.8 483.8 364.8 483.1 363.6 482.5 361.8 481.1 360.5 479.5 359.5 477.5 358.9 474.5 359.0 472.5 359.8 469.5 361.2 466.5 363.0 463.5 365.8 459.7 368.8 456.3 380.8 443.3 384.8 439.3 388.8 435.9 391.8 433.7 394.8 431.9 398.0 430.5Z" stroke="#e87000" stroke-width="1.55"/><path d="M399.4 430.5 400.8 430.3 402.8 430.3 404.8 430.9 405.7 431.5 406.5 432.5 407.0 433.5 407.2 434.5 407.2 436.5 406.3 440.5 402.4 450.5 400.0 458.5 398.1 462.5 395.6 466.5 391.8 471.2 387.4 475.5 382.8 479.0 377.8 481.9 373.8 483.4 371.8 483.8 369.8 483.9 367.8 483.8 365.8 483.3 364.1 482.5 362.8 481.6 360.8 479.5 359.8 477.7 359.2 475.5 359.2 473.5 359.4 471.5 360.4 468.5 361.9 465.5 363.9 462.5 366.8 458.8 369.8 455.4 381.8 442.6 386.1 438.5 389.8 435.4 392.8 433.3 395.8 431.7 399.4 430.5Z" stroke="#e87000" stroke-width="1.55"/><path d="M397.2 431.5 398.8 431.0 400.8 430.7 402.8 430.9 404.6 431.5 405.7 432.5 406.3 433.5 406.6 434.5 406.7 436.5 405.9 440.5 402.0 450.5 399.7 458.5 397.9 462.5 396.0 465.5 392.1 470.5 387.8 474.9 383.3 478.5 378.2 481.5 374.8 482.9 372.8 483.4 370.8 483.7 368.8 483.7 366.8 483.4 364.8 482.6 363.8 482.0 361.9 480.5 360.5 478.5 359.7 476.5 359.4 474.5 359.5 472.5 360.2 469.5 361.6 466.5 363.4 463.5 365.8 460.3 368.8 456.8 381.3 443.5 384.8 440.0 388.8 436.5 391.8 434.3 394.8 432.5 397.2 431.5Z" stroke="#e85008" stroke-width="1.55"/><path d="M398.5 431.5 399.8 431.2 401.8 431.2 403.1 431.5 404.8 432.5 405.6 433.5 405.9 434.5 406.1 435.5 406.1 437.5 405.1 441.5 401.8 450.1 399.4 458.5 397.8 462.1 395.8 465.5 391.9 470.5 387.8 474.6 383.0 478.5 377.9 481.5 373.8 483.0 371.8 483.4 369.8 483.6 366.8 483.1 365.1 482.5 363.8 481.7 362.3 480.5 360.7 478.5 359.9 476.5 359.6 474.5 359.7 472.5 360.5 469.5 361.8 466.5 363.6 463.5 365.8 460.6 368.8 457.1 381.8 443.3 385.8 439.4 389.8 436.1 392.8 434.0 395.8 432.4 398.5 431.5Z" stroke="#e85008" stroke-width="1.55"/><path d="M396.5 432.5 399.8 431.7 401.8 431.7 402.8 432.0 403.8 432.5 404.8 433.5 405.3 434.5 405.6 436.5 405.4 438.5 405.0 440.5 401.3 450.5 399.2 458.5 397.8 461.6 395.5 465.5 391.8 470.3 387.7 474.5 382.7 478.5 377.8 481.3 373.8 482.8 371.8 483.2 369.8 483.4 366.8 482.9 365.7 482.5 363.9 481.5 361.8 479.6 360.8 478.0 359.9 475.5 359.8 473.5 360.1 471.5 361.1 468.5 362.0 466.5 363.8 463.6 365.8 460.9 368.8 457.4 384.8 440.7 387.8 438.0 390.8 435.7 393.8 433.8 396.5 432.5Z" stroke="#e85008" stroke-width="1.55"/><path d="M397.7 432.5 400.8 432.1 402.8 432.6 403.9 433.5 404.6 434.5 404.9 435.5 405.0 437.5 404.7 439.5 404.2 441.5 401.3 449.5 398.9 458.5 397.6 461.5 395.2 465.5 391.8 470.0 387.4 474.5 382.8 478.2 378.8 480.6 374.8 482.3 372.8 482.9 370.8 483.1 367.8 482.9 365.8 482.3 364.3 481.5 362.1 479.5 360.8 477.5 360.2 475.5 360.1 473.5 360.3 471.5 361.3 468.5 362.8 465.5 364.1 463.5 366.4 460.5 368.9 457.5 384.8 441.0 388.8 437.5 391.8 435.4 394.8 433.6 397.7 432.5Z" stroke="#e85008" stroke-width="1.55"/><path d="M396.0 433.5 398.8 432.7 400.8 432.7 401.8 432.9 402.9 433.5 403.8 434.5 404.2 435.5 404.4 437.5 404.2 439.5 403.7 441.5 400.8 449.8 398.6 458.5 396.8 462.5 395.0 465.5 391.1 470.5 387.1 474.5 382.8 477.9 378.7 480.5 374.8 482.1 372.8 482.7 370.8 482.9 367.8 482.7 364.8 481.5 362.8 479.9 361.7 478.5 360.7 476.5 360.3 474.5 360.4 472.5 360.8 470.4 362.0 467.5 363.6 464.5 365.8 461.5 368.8 457.9 384.8 441.4 387.8 438.7 390.8 436.4 393.8 434.5 396.0 433.5Z" stroke="#e85008" stroke-width="1.55"/><path d="M397.4 433.5 398.8 433.2 400.8 433.3 401.8 433.6 402.8 434.3 403.5 435.5 403.8 436.5 403.8 438.5 403.0 442.5 400.2 450.5 398.9 456.5 398.3 458.5 396.8 461.9 394.7 465.5 390.8 470.5 386.8 474.5 382.8 477.7 378.3 480.5 374.8 481.9 372.8 482.5 370.8 482.7 367.8 482.5 365.8 481.7 364.8 481.2 362.8 479.5 361.4 477.5 360.7 475.5 360.5 473.5 360.8 471.5 361.7 468.5 362.8 466.3 364.6 463.5 366.8 460.5 369.8 457.1 385.0 441.5 388.5 438.5 391.8 436.1 394.8 434.4 397.4 433.5Z" stroke="#e83010" stroke-width="1.55"/><path d="M395.7 434.5 398.8 433.7 400.8 434.0 401.8 434.5 402.8 435.7 403.1 436.5 403.2 438.5 402.8 441.5 400.1 449.5 398.0 458.5 396.7 461.5 394.4 465.5 390.8 470.1 386.5 474.5 382.8 477.5 377.8 480.5 373.8 482.0 370.8 482.5 367.8 482.2 365.9 481.5 364.8 480.9 363.2 479.5 361.8 477.6 361.0 475.5 360.8 474.1 361.0 471.5 361.6 469.5 362.8 466.7 364.1 464.5 366.8 460.9 369.7 457.5 384.8 442.1 387.8 439.4 390.8 437.2 393.6 435.5 395.7 434.5Z" stroke="#e83010" stroke-width="1.55"/><path d="M397.4 434.5 399.8 434.4 400.8 434.8 401.7 435.5 402.3 436.5 402.6 437.5 402.6 439.5 402.0 442.5 399.5 450.5 398.5 455.5 397.7 458.5 395.9 462.5 393.8 465.9 390.2 470.5 386.2 474.5 382.4 477.5 377.8 480.3 374.8 481.5 372.8 482.0 370.8 482.3 367.8 482.0 366.5 481.5 364.8 480.6 363.6 479.5 362.0 477.5 361.3 475.5 361.0 473.5 361.3 471.5 361.8 469.5 363.2 466.5 365.0 463.5 367.3 460.5 370.0 457.5 385.8 441.6 388.8 439.1 391.8 437.0 394.8 435.3 397.4 434.5Z" stroke="#e83010" stroke-width="1.55"/><path d="M395.7 435.5 397.8 435.0 398.8 435.0 400.4 435.5 401.4 436.5 401.8 437.4 402.0 439.5 401.5 442.5 399.1 450.5 397.7 457.5 396.1 461.5 393.8 465.5 390.7 469.5 386.9 473.5 383.4 476.5 378.8 479.5 374.8 481.3 372.8 481.8 370.8 482.0 367.8 481.7 365.2 480.5 363.8 479.3 362.4 477.5 361.6 475.5 361.3 473.5 361.5 471.5 362.0 469.5 362.9 467.5 364.8 464.2 366.8 461.5 369.8 458.0 384.8 442.9 387.8 440.3 390.8 438.0 393.4 436.5 395.7 435.5Z" stroke="#ff0000" stroke-width="1.55"/><path d="M394.4 436.5 395.8 436.0 397.8 435.7 398.8 435.8 399.8 436.1 400.3 436.5 400.9 437.5 401.3 439.5 400.9 442.5 398.9 449.5 397.3 457.5 395.8 461.5 393.8 465.0 390.4 469.5 386.6 473.5 382.8 476.7 378.4 479.5 374.8 481.1 371.8 481.7 368.8 481.7 367.8 481.4 365.7 480.5 363.8 478.9 362.7 477.5 361.8 475.5 361.6 473.5 361.7 471.5 362.3 469.5 363.1 467.5 364.8 464.5 366.8 461.8 369.8 458.3 384.8 443.3 389.8 439.2 392.4 437.5 394.4 436.5Z" stroke="#ff0000" stroke-width="1.55"/><path d="M396.4 436.5 398.2 436.5 398.8 436.7 399.8 437.4 400.4 438.5 400.6 439.5 400.5 441.5 398.5 449.5 397.4 455.5 396.7 458.5 394.8 462.8 391.8 467.4 388.3 471.5 383.9 475.5 379.8 478.5 376.8 480.0 374.8 480.8 372.8 481.3 369.8 481.5 366.8 480.7 364.8 479.5 363.8 478.5 362.5 476.5 361.9 474.5 361.9 472.5 362.2 470.5 362.9 468.5 363.9 466.5 365.8 463.5 367.8 460.9 370.8 457.6 385.8 442.9 388.8 440.4 391.8 438.3 393.8 437.3 396.4 436.5Z" stroke="#ff0000" stroke-width="1.55"/><path d="M394.9 437.5 396.8 437.2 397.8 437.3 398.8 437.8 399.3 438.5 399.7 439.5 399.8 441.5 399.5 443.5 398.1 449.5 396.6 457.5 395.1 461.5 392.8 465.5 389.7 469.5 385.9 473.5 382.3 476.5 377.8 479.3 374.8 480.6 372.8 481.1 370.8 481.3 367.8 480.8 365.8 479.8 364.3 478.5 362.9 476.5 362.5 475.5 362.1 473.5 362.3 471.5 362.8 469.5 364.2 466.5 365.8 463.8 367.8 461.2 370.8 457.9 385.8 443.3 387.8 441.6 390.8 439.5 392.8 438.3 394.9 437.5Z" stroke="#ff0000" stroke-width="1.55"/><path d="M393.8 438.5 395.8 438.1 396.8 438.1 397.9 438.5 398.8 439.7 399.0 440.5 399.0 442.5 397.5 450.5 396.7 455.5 395.9 458.5 394.7 461.5 392.4 465.5 389.8 469.0 386.5 472.5 383.2 475.5 378.8 478.5 374.8 480.3 371.8 481.0 368.8 480.8 367.7 480.5 365.9 479.5 364.7 478.5 363.2 476.5 362.8 475.5 362.4 473.5 362.6 471.5 363.1 469.5 363.9 467.5 365.8 464.2 367.8 461.5 370.8 458.2 384.8 444.7 389.8 440.7 391.8 439.4 393.8 438.5Z" stroke="#ff0000" stroke-width="1.55"/><path d="M393.0 439.5 394.8 439.0 395.8 438.9 396.8 439.2 397.3 439.5 398.0 440.5 398.3 442.5 398.1 444.5 395.8 457.5 394.4 461.5 392.1 465.5 389.0 469.5 385.1 473.5 381.4 476.5 378.2 478.5 374.8 480.0 371.8 480.7 368.8 480.5 366.5 479.5 365.2 478.5 363.8 476.8 363.2 475.5 362.7 473.5 362.8 471.5 363.4 469.5 364.2 467.5 365.9 464.5 367.8 461.9 370.8 458.5 384.8 445.2 388.8 441.9 390.8 440.6 393.0 439.5Z" stroke="#ff0000" stroke-width="1.55"/><path d="M392.3 440.5 393.8 440.0 394.8 439.9 395.8 440.0 396.8 440.6 397.3 441.5 397.5 443.5 396.0 454.5 395.4 457.5 394.0 461.5 391.8 465.3 388.8 469.2 385.7 472.5 382.3 475.5 377.8 478.4 374.8 479.7 371.8 480.4 369.8 480.4 368.8 480.2 366.8 479.3 365.7 478.5 364.0 476.5 363.5 475.5 363.1 473.5 363.2 471.5 363.6 469.5 364.8 466.8 366.2 464.5 368.4 461.5 371.8 457.8 383.8 446.6 388.8 442.5 392.3 440.5Z" stroke="#ff0000" stroke-width="1.55"/><path d="M391.6 441.5 393.8 440.9 394.8 440.9 395.8 441.4 396.5 442.5 396.7 444.5 395.7 453.5 395.0 457.5 393.8 460.9 391.8 464.7 389.0 468.5 385.8 472.0 381.8 475.5 378.8 477.6 374.8 479.4 371.8 480.1 369.8 480.0 368.8 479.8 366.8 478.9 365.2 477.5 364.4 476.5 363.6 474.5 363.4 472.5 363.6 470.5 364.3 468.5 366.4 464.5 367.9 462.5 370.5 459.5 374.8 455.3 386.8 444.6 389.8 442.4 391.6 441.5Z" stroke="#e02c10" stroke-width="1.55"/><path d="M391.1 442.5 392.8 442.0 393.8 441.9 394.8 442.3 395.7 443.5 395.9 445.5 395.2 453.5 394.5 457.5 393.1 461.5 390.8 465.5 387.8 469.4 384.8 472.5 381.3 475.5 377.8 477.8 374.8 479.1 371.8 479.7 369.0 479.5 366.8 478.5 365.7 477.5 364.3 475.5 363.8 473.7 363.7 472.5 364.0 470.5 364.6 468.5 366.7 464.5 370.8 459.5 374.8 455.7 385.8 446.0 388.8 443.7 391.1 442.5Z" stroke="#e02c10" stroke-width="1.55"/><path d="M390.5 444.5 391.8 444.2 392.8 444.4 393.8 445.3 394.3 447.5 394.3 450.5 393.9 455.5 393.3 458.5 391.8 462.2 389.8 465.6 386.8 469.4 383.8 472.5 380.2 475.5 376.9 477.5 374.5 478.5 371.8 479.0 369.8 478.9 368.8 478.6 366.9 477.5 365.8 476.4 364.8 474.6 364.5 473.5 364.5 471.5 364.9 469.5 365.6 467.5 367.8 463.8 371.8 459.2 376.8 454.7 386.8 446.5 388.8 445.2 390.5 444.5Z" stroke="#c83008" stroke-width="1.55"/><path d="M387.9 447.5 389.8 446.8 390.8 446.8 391.8 447.3 392.5 448.5 392.7 449.5 392.9 451.5 392.7 455.5 391.8 459.5 390.6 462.5 388.8 465.5 385.8 469.3 382.7 472.5 380.3 474.5 377.1 476.5 374.8 477.6 371.8 478.2 369.8 478.0 367.8 477.0 366.8 476.2 365.7 474.5 365.4 473.5 365.2 471.5 365.9 468.5 366.8 466.5 368.0 464.5 371.8 459.9 374.8 457.2 377.8 454.7 384.8 449.5 387.9 447.5Z" stroke="#c83008" stroke-width="1.55"/><path d="M385.9 450.5 387.8 449.7 388.8 449.6 389.8 449.8 390.8 451.1 391.1 452.5 391.2 455.5 390.8 458.5 389.7 461.5 387.5 465.5 385.2 468.5 382.4 471.5 380.1 473.5 377.1 475.5 374.8 476.6 372.8 477.1 370.8 477.1 368.8 476.4 367.8 475.7 366.8 474.4 366.2 472.5 366.1 471.5 366.6 468.5 367.5 466.5 368.7 464.5 372.8 459.7 376.8 456.4 379.8 454.2 385.9 450.5Z" stroke="#c83008" stroke-width="1.55"/><path d="M383.8 453.5 385.8 452.9 386.8 452.8 387.8 453.0 388.3 453.5 388.8 454.3 389.1 455.5 389.1 457.5 388.5 460.5 387.1 463.5 385.3 466.5 380.8 471.6 378.8 473.1 375.8 474.9 373.8 475.7 371.8 475.8 370.1 475.5 368.8 474.8 367.8 473.7 367.3 472.5 367.0 470.5 367.8 467.5 369.5 464.5 373.0 460.5 376.8 457.4 379.8 455.4 383.8 453.5Z" stroke="#a82a08" stroke-width="1.55"/><path d="M380.3 456.5 381.8 456.0 383.8 455.8 384.8 456.0 385.6 456.5 386.2 457.5 386.4 459.5 386.1 461.5 384.1 465.5 380.1 470.5 377.8 472.3 374.8 473.9 373.8 474.2 371.8 474.2 369.8 473.5 368.8 472.5 368.3 471.5 368.1 470.5 368.4 468.5 369.7 465.5 371.8 463.0 374.2 460.5 377.8 457.9 380.3 456.5Z" stroke="#800000" stroke-width="1.55"/><path d="M380.1 458.5 380.8 458.4 382.1 458.5 382.8 458.9 383.3 459.5 383.6 460.5 383.5 461.5 382.9 463.5 381.3 466.5 378.8 469.8 377.8 470.7 376.4 471.5 373.8 472.6 372.0 472.5 370.8 472.0 369.8 470.9 369.5 469.5 369.9 467.5 370.9 465.5 372.8 463.3 374.8 461.5 377.8 459.5 380.1 458.5Z" stroke="#800000" stroke-width="1.55"/><path d="M377.4 462.5 378.8 462.5 379.3 463.5 379.3 464.5 378.8 466.5 377.8 468.4 376.8 469.5 374.8 470.6 373.8 470.8 372.3 470.5 371.4 469.5 371.3 468.5 371.5 467.5 371.9 466.5 372.8 465.4 374.8 463.7 377.4 462.5Z" stroke="#800000" stroke-width="1.55"/></g><rect x="435.3" y="501.5" width="46.4" height="43.8" fill="#fff"/><rect x="239.5" y="657" width="46.5" height="35" fill="#fff"/><rect x="549.5" y="237" width="52.5" height="411" fill="#fff"/><g stroke="#7a7a7a" stroke-width="1.1" fill="none"><rect x="110.8" y="231.4" width="500.0" height="498.5"/><path d="M166.4 729.9v-5M166.4 231.4v5M110.8 674.5h5M610.8 674.5h-5"/><path d="M221.9 729.9v-5M221.9 231.4v5M110.8 619.1h5M610.8 619.1h-5"/><path d="M277.5 729.9v-5M277.5 231.4v5M110.8 563.7h5M610.8 563.7h-5"/><path d="M333.0 729.9v-5M333.0 231.4v5M110.8 508.3h5M610.8 508.3h-5"/><path d="M388.6 729.9v-5M388.6 231.4v5M110.8 453.0h5M610.8 453.0h-5"/><path d="M444.1 729.9v-5M444.1 231.4v5M110.8 397.6h5M610.8 397.6h-5"/><path d="M499.7 729.9v-5M499.7 231.4v5M110.8 342.2h5M610.8 342.2h-5"/><path d="M555.2 729.9v-5M555.2 231.4v5M110.8 286.8h5M610.8 286.8h-5"/></g><rect x="551.1" y="628.83" width="24.9" height="13.07" fill="#000090"/><rect x="551.1" y="603.70" width="24.9" height="25.44" fill="#0000c4"/><rect x="551.1" y="572.97" width="24.9" height="31.02" fill="#0000ff"/><rect x="551.1" y="567.39" width="24.9" height="5.89" fill="#0838d8"/><rect x="551.1" y="554.62" width="24.9" height="13.07" fill="#0860c8"/><rect x="551.1" y="535.47" width="24.9" height="19.45" fill="#1080c0"/><rect x="551.1" y="523.10" width="24.9" height="12.67" fill="#10a0c0"/><rect x="551.1" y="516.71" width="24.9" height="6.68" fill="#20c0b0"/><rect x="551.1" y="478.81" width="24.9" height="38.20" fill="#00ffff"/><rect x="551.1" y="467.24" width="24.9" height="11.87" fill="#40b8c0"/><rect x="551.1" y="454.07" width="24.9" height="13.47" fill="#60e080"/><rect x="551.1" y="431.33" width="24.9" height="23.04" fill="#80e080"/><rect x="551.1" y="424.14" width="24.9" height="7.48" fill="#90e060"/><rect x="551.1" y="411.38" width="24.9" height="13.07" fill="#b8e050"/><rect x="551.1" y="404.59" width="24.9" height="7.08" fill="#d8e050"/><rect x="551.1" y="386.24" width="24.9" height="18.65" fill="#ffff00"/><rect x="551.1" y="380.25" width="24.9" height="6.29" fill="#e8e020"/><rect x="551.1" y="366.69" width="24.9" height="13.87" fill="#e8d000"/><rect x="551.1" y="353.92" width="24.9" height="13.07" fill="#e0a800"/><rect x="551.1" y="335.57" width="24.9" height="18.65" fill="#e89000"/><rect x="551.1" y="323.20" width="24.9" height="12.67" fill="#e87000"/><rect x="551.1" y="310.03" width="24.9" height="13.47" fill="#e85008"/><rect x="551.1" y="304.05" width="24.9" height="6.29" fill="#e83010"/><rect x="551.1" y="286.49" width="24.9" height="17.86" fill="#ff0000"/><rect x="551.1" y="278.51" width="24.9" height="8.28" fill="#e02c10"/><rect x="551.1" y="266.54" width="24.9" height="12.27" fill="#c83008"/><rect x="551.1" y="260.95" width="24.9" height="5.89" fill="#a82a08"/><rect x="551.1" y="242.60" width="24.9" height="18.65" fill="#800000"/><path d="M576.2 242.6V641.6" stroke="#403030" stroke-width="0.8" opacity="0.6"/><g font-family="'Liberation Sans',sans-serif" font-weight="bold" font-size="12px" fill="#1c1c1c"><text x="577.6" y="645.7">0</text><text x="577.6" y="605.8">0.1</text><path d="M576.0 601.7h-3.5" stroke="#333" stroke-width="0.8"/><text x="577.6" y="565.9">0.2</text><path d="M576.0 561.8h-3.5" stroke="#333" stroke-width="0.8"/><text x="577.6" y="526.0">0.3</text><path d="M576.0 521.9h-3.5" stroke="#333" stroke-width="0.8"/><text x="577.6" y="486.1">0.4</text><path d="M576.0 482.0h-3.5" stroke="#333" stroke-width="0.8"/><text x="577.6" y="446.2">0.5</text><path d="M576.0 442.1h-3.5" stroke="#333" stroke-width="0.8"/><text x="577.6" y="406.3">0.6</text><path d="M576.0 402.2h-3.5" stroke="#333" stroke-width="0.8"/><text x="577.6" y="366.4">0.7</text><path d="M576.0 362.3h-3.5" stroke="#333" stroke-width="0.8"/><text x="577.6" y="326.5">0.8</text><path d="M576.0 322.4h-3.5" stroke="#333" stroke-width="0.8"/><text x="577.6" y="286.6">0.9</text><path d="M576.0 282.5h-3.5" stroke="#333" stroke-width="0.8"/><text x="577.6" y="246.7">1</text></g><path d="M222 507.6L322.5 606" stroke="#111" stroke-width="1.9" stroke-dasharray="9 5.2" fill="none"/><rect x="325.7" y="592.8" width="132.2" height="43.7" fill="#fff" stroke="#111" stroke-width="1.7" stroke-dasharray="7 3.6"/><g font-family="'Liberation Serif',serif" font-style="italic" font-weight="bold" fill="#111" font-size="25.3px" stroke="#111" stroke-width="0.35"><text x="71.5" y="241.2">1.4</text><text x="71.5" y="348.9">1.2</text><text x="74.0" y="464.2">1.0</text><text x="74.2" y="571.9">0.8</text><text x="73.7" y="683.0">0.6</text><text x="148.5" y="750.2">0.6</text><text x="260.5" y="750.2">0.8</text><text x="369.3" y="750.3">1.0</text><text x="481.0" y="752.6">1.2</text><text x="589.9" y="749.0">1.4</text></g><text font-family="'Liberation Serif',serif" font-style="italic" font-weight="bold" fill="#111" font-size="24.6px" letter-spacing="1.35" x="336.2" y="624.5">transition</text><text font-family="'Liberation Serif',serif" font-style="italic" font-weight="bold" fill="#111" font-size="29px" x="443.8" y="534">S2</text><text font-family="'Liberation Serif',serif" font-style="italic" font-weight="bold" fill="#111" font-size="29px" x="247.8" y="685">S1</text><text font-family="'Liberation Serif',serif" font-style="italic" fill="#111" font-size="27.5px" x="299" y="784.4"><tspan stroke="#111" stroke-width="0.3">RR</tspan><tspan font-weight="bold" font-size="25.7px">(n), sec</tspan></text><text font-family="'Liberation Serif',serif" font-style="italic" fill="#111" font-size="27.5px" transform="translate(56.3 516.6) rotate(-90)"><tspan stroke="#111" stroke-width="0.3">RR</tspan><tspan font-weight="bold" font-size="26px">(n+1), sec</tspan></text></svg></body></html>
